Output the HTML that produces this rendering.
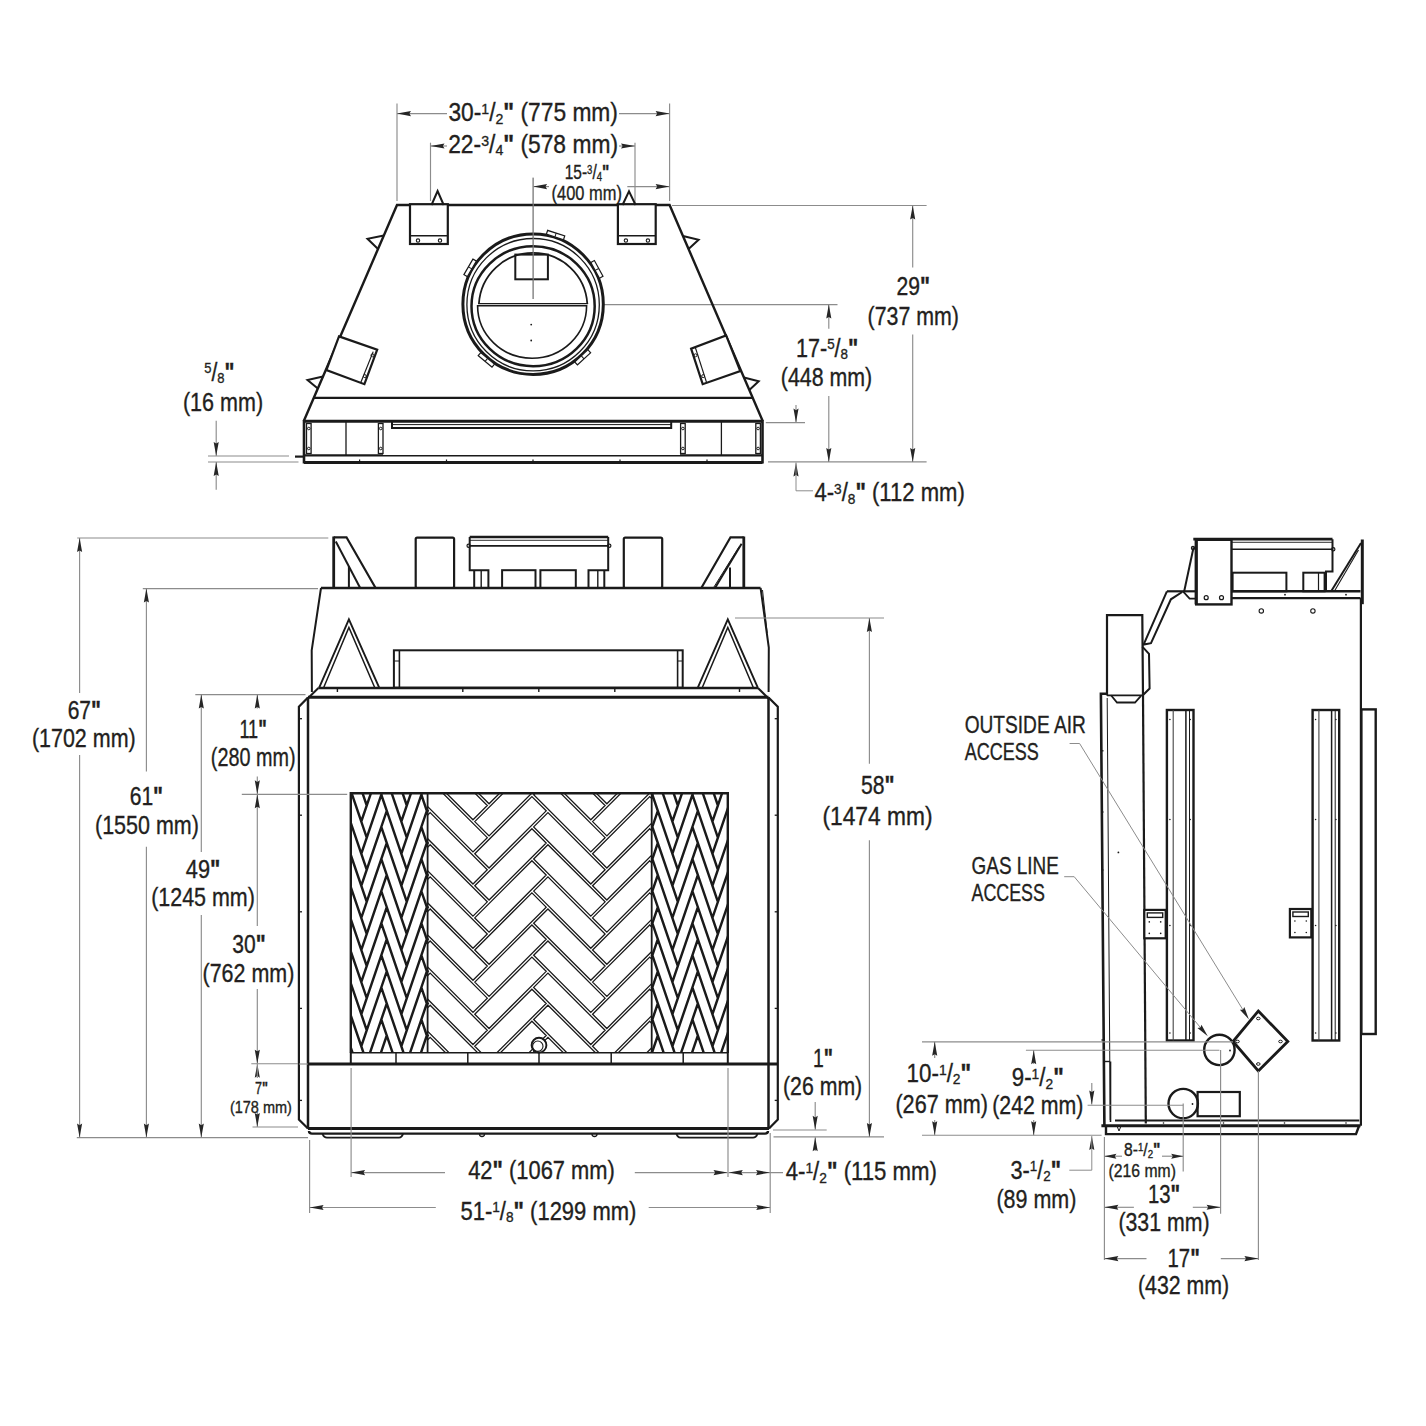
<!DOCTYPE html>
<html><head><meta charset="utf-8"><title>Fireplace dimensions</title>
<style>html,body{margin:0;padding:0;background:#fff;}svg{display:block;}
text{font-family:"Liberation Sans",sans-serif;}</style></head>
<body><svg width="1426" height="1426" viewBox="0 0 1426 1426">
<rect width="1426" height="1426" fill="#fff"/>
<line x1="397" y1="103.5" x2="397" y2="201" stroke="#8c8c8c" stroke-width="1.15"/>
<line x1="669.6" y1="103.5" x2="669.6" y2="201" stroke="#8c8c8c" stroke-width="1.15"/>
<line x1="397" y1="113.6" x2="447" y2="113.6" stroke="#8c8c8c" stroke-width="1.15"/>
<line x1="619" y1="113.6" x2="669.6" y2="113.6" stroke="#8c8c8c" stroke-width="1.15"/>
<polygon points="397,113.6 411,111.05 409.4,113.6 411,116.15" fill="#262626" stroke="none"/>
<polygon points="669.6,113.6 655.6,116.15 657.2,113.6 655.6,111.05" fill="#262626" stroke="none"/>
<text x="448.4" y="121.4" font-size="25" textLength="169.5" lengthAdjust="spacingAndGlyphs" fill="#231f20" stroke="#231f20" stroke-width="0.35"><tspan font-size="25" dy="0">30-</tspan><tspan font-size="15.5" dy="-7.25">1</tspan><tspan font-size="25" dy="7.25">/</tspan><tspan font-size="15.5" dy="2.5">2</tspan><tspan font-size="25" dy="-2.5"><tspan font-weight="bold">&quot;</tspan> (775 mm)</tspan></text>
<line x1="430.5" y1="142.7" x2="430.5" y2="201" stroke="#8c8c8c" stroke-width="1.15"/>
<line x1="635" y1="142.7" x2="635" y2="203" stroke="#8c8c8c" stroke-width="1.15"/>
<line x1="430.5" y1="146" x2="447" y2="146" stroke="#8c8c8c" stroke-width="1.15"/>
<line x1="619" y1="146" x2="635" y2="146" stroke="#8c8c8c" stroke-width="1.15"/>
<polygon points="430.5,146 444.5,143.45 442.9,146 444.5,148.55" fill="#262626" stroke="none"/>
<polygon points="635,146 621,148.55 622.6,146 621,143.45" fill="#262626" stroke="none"/>
<text x="448.2" y="152.8" font-size="25" textLength="169.8" lengthAdjust="spacingAndGlyphs" fill="#231f20" stroke="#231f20" stroke-width="0.35"><tspan font-size="25" dy="0">22-</tspan><tspan font-size="15.5" dy="-7.25">3</tspan><tspan font-size="25" dy="7.25">/</tspan><tspan font-size="15.5" dy="2.5">4</tspan><tspan font-size="25" dy="-2.5"><tspan font-weight="bold">&quot;</tspan> (578 mm)</tspan></text>
<line x1="533.1" y1="177.6" x2="533.1" y2="299" stroke="#8c8c8c" stroke-width="1.15"/>
<line x1="533.1" y1="186.6" x2="549" y2="186.6" stroke="#8c8c8c" stroke-width="1.15"/>
<polygon points="533.1,186.6 547.1,184.05 545.5,186.6 547.1,189.15" fill="#262626" stroke="none"/>
<line x1="627.3" y1="186.6" x2="669.6" y2="186.6" stroke="#8c8c8c" stroke-width="1.15"/>
<polygon points="669.6,186.6 655.6,189.15 657.2,186.6 655.6,184.05" fill="#262626" stroke="none"/>
<text x="564.7" y="179.4" font-size="20" textLength="44.7" lengthAdjust="spacingAndGlyphs" fill="#231f20" stroke="#231f20" stroke-width="0.35"><tspan font-size="20" dy="0">15-</tspan><tspan font-size="12.4" dy="-5.8">3</tspan><tspan font-size="20" dy="5.8">/</tspan><tspan font-size="12.4" dy="2">4</tspan><tspan font-size="20" dy="-2"><tspan font-weight="bold">&quot;</tspan></tspan></text>
<text x="551.6" y="199.7" font-size="20.5" textLength="70.3" lengthAdjust="spacingAndGlyphs" fill="#231f20" stroke="#231f20" stroke-width="0.35"><tspan font-size="20.5" dy="0">(400 mm)</tspan></text>
<line x1="672" y1="205.5" x2="926.6" y2="205.5" stroke="#8c8c8c" stroke-width="1.15"/>
<line x1="604" y1="304.6" x2="837.5" y2="304.6" stroke="#8c8c8c" stroke-width="1.15"/>
<line x1="768" y1="461.9" x2="926.6" y2="461.9" stroke="#8c8c8c" stroke-width="1.15"/>
<line x1="912.7" y1="206" x2="912.7" y2="267.5" stroke="#8c8c8c" stroke-width="1.15"/>
<line x1="912.7" y1="334.6" x2="912.7" y2="461.9" stroke="#8c8c8c" stroke-width="1.15"/>
<polygon points="912.7,205.5 915.25,219.5 912.7,217.9 910.15,219.5" fill="#262626" stroke="none"/>
<polygon points="912.7,461.9 910.15,447.9 912.7,449.5 915.25,447.9" fill="#262626" stroke="none"/>
<text x="896.5" y="295.3" font-size="25" textLength="33.5" lengthAdjust="spacingAndGlyphs" fill="#231f20" stroke="#231f20" stroke-width="0.35"><tspan font-size="25" dy="0">29<tspan font-weight="bold">&quot;</tspan></tspan></text>
<text x="867.6" y="325.4" font-size="25" textLength="91.4" lengthAdjust="spacingAndGlyphs" fill="#231f20" stroke="#231f20" stroke-width="0.35"><tspan font-size="25" dy="0">(737 mm)</tspan></text>
<line x1="828.8" y1="304.6" x2="828.8" y2="328.8" stroke="#8c8c8c" stroke-width="1.15"/>
<line x1="828.8" y1="396" x2="828.8" y2="461.9" stroke="#8c8c8c" stroke-width="1.15"/>
<polygon points="828.8,304.6 831.35,318.6 828.8,317 826.25,318.6" fill="#262626" stroke="none"/>
<polygon points="828.8,461.9 826.25,447.9 828.8,449.5 831.35,447.9" fill="#262626" stroke="none"/>
<text x="795.9" y="356.6" font-size="25" textLength="62.4" lengthAdjust="spacingAndGlyphs" fill="#231f20" stroke="#231f20" stroke-width="0.35"><tspan font-size="25" dy="0">17-</tspan><tspan font-size="15.5" dy="-7.25">5</tspan><tspan font-size="25" dy="7.25">/</tspan><tspan font-size="15.5" dy="2.5">8</tspan><tspan font-size="25" dy="-2.5"><tspan font-weight="bold">&quot;</tspan></tspan></text>
<text x="780.8" y="385.5" font-size="25" textLength="91.4" lengthAdjust="spacingAndGlyphs" fill="#231f20" stroke="#231f20" stroke-width="0.35"><tspan font-size="25" dy="0">(448 mm)</tspan></text>
<line x1="796" y1="405" x2="796" y2="422.6" stroke="#8c8c8c" stroke-width="1.15"/>
<polygon points="796,422.6 793.45,408.6 796,410.2 798.55,408.6" fill="#262626" stroke="none"/>
<line x1="765.8" y1="422.6" x2="805" y2="422.6" stroke="#8c8c8c" stroke-width="1.15"/>
<polygon points="796,462.5 798.55,476.5 796,474.9 793.45,476.5" fill="#262626" stroke="none"/>
<polyline points="796,462.5 796,490.8 813,490.8" fill="none" stroke="#8c8c8c" stroke-width="1" stroke-linejoin="miter"/>
<text x="814.4" y="501.2" font-size="25" textLength="150.4" lengthAdjust="spacingAndGlyphs" fill="#231f20" stroke="#231f20" stroke-width="0.35"><tspan font-size="25" dy="0">4-</tspan><tspan font-size="15.5" dy="-7.25">3</tspan><tspan font-size="25" dy="7.25">/</tspan><tspan font-size="15.5" dy="2.5">8</tspan><tspan font-size="25" dy="-2.5"><tspan font-weight="bold">&quot;</tspan> (112 mm)</tspan></text>
<text x="204.2" y="380.5" font-size="25" textLength="30.3" lengthAdjust="spacingAndGlyphs" fill="#231f20" stroke="#231f20" stroke-width="0.35"><tspan font-size="25" dy="0"></tspan><tspan font-size="15.5" dy="-7.25">5</tspan><tspan font-size="25" dy="7.25">/</tspan><tspan font-size="15.5" dy="2.5">8</tspan><tspan font-size="25" dy="-2.5"><tspan font-weight="bold">&quot;</tspan></tspan></text>
<text x="182.9" y="411.2" font-size="25" textLength="80.2" lengthAdjust="spacingAndGlyphs" fill="#231f20" stroke="#231f20" stroke-width="0.35"><tspan font-size="25" dy="0">(16 mm)</tspan></text>
<line x1="216.2" y1="420.7" x2="216.2" y2="456" stroke="#8c8c8c" stroke-width="1.15"/>
<polygon points="216.2,456 213.65,442 216.2,443.6 218.75,442" fill="#262626" stroke="none"/>
<line x1="208" y1="456" x2="289" y2="456" stroke="#8c8c8c" stroke-width="1.15"/>
<line x1="208" y1="462" x2="298.5" y2="462" stroke="#8c8c8c" stroke-width="1.15"/>
<line x1="216.2" y1="462" x2="216.2" y2="489.7" stroke="#8c8c8c" stroke-width="1.15"/>
<polygon points="216.2,462 218.75,476 216.2,474.4 213.65,476" fill="#262626" stroke="none"/>
<polyline points="303.8,421 397,205 669.6,205 762.7,421" fill="none" stroke="#1a1a1a" stroke-width="2.4" stroke-linejoin="miter"/>
<line x1="313.5" y1="397.8" x2="752.7" y2="397.8" stroke="#1a1a1a" stroke-width="2.2"/>
<line x1="303.8" y1="421.2" x2="762.7" y2="421.2" stroke="#1a1a1a" stroke-width="3"/>
<line x1="304" y1="420" x2="304" y2="463.5" stroke="#1a1a1a" stroke-width="2.6"/>
<line x1="762.5" y1="420" x2="762.5" y2="463.5" stroke="#1a1a1a" stroke-width="2.6"/>
<line x1="304" y1="455.4" x2="383" y2="455.4" stroke="#1a1a1a" stroke-width="2.2"/>
<line x1="383" y1="455.8" x2="680" y2="455.8" stroke="#1a1a1a" stroke-width="1.4"/>
<line x1="680" y1="455.4" x2="762.5" y2="455.4" stroke="#1a1a1a" stroke-width="2.2"/>
<line x1="304" y1="462.5" x2="762.5" y2="462.5" stroke="#1a1a1a" stroke-width="3"/>
<line x1="295" y1="456.6" x2="304" y2="456.6" stroke="#1a1a1a" stroke-width="2.2"/>
<line x1="359.6" y1="459.5" x2="359.6" y2="462" stroke="#1a1a1a" stroke-width="1.2"/>
<line x1="446.5" y1="459.5" x2="446.5" y2="462" stroke="#1a1a1a" stroke-width="1.2"/>
<line x1="533" y1="459.5" x2="533" y2="462" stroke="#1a1a1a" stroke-width="1.2"/>
<line x1="620" y1="459.5" x2="620" y2="462" stroke="#1a1a1a" stroke-width="1.2"/>
<line x1="707" y1="459.5" x2="707" y2="462" stroke="#1a1a1a" stroke-width="1.2"/>
<line x1="346" y1="421" x2="346" y2="455.4" stroke="#1a1a1a" stroke-width="1.3"/>
<line x1="721.4" y1="421" x2="721.4" y2="455.4" stroke="#1a1a1a" stroke-width="1.3"/>
<rect x="306.5" y="423.5" width="4.6" height="30" rx="0" fill="none" stroke="#1a1a1a" stroke-width="1.3"/>
<circle cx="308.8" cy="428.5" r="1.3" fill="none" stroke="#1a1a1a" stroke-width="1"/>
<circle cx="308.8" cy="448.5" r="1.3" fill="none" stroke="#1a1a1a" stroke-width="1"/>
<rect x="378.4" y="423.5" width="4.6" height="30" rx="0" fill="none" stroke="#1a1a1a" stroke-width="1.3"/>
<circle cx="380.7" cy="428.5" r="1.3" fill="none" stroke="#1a1a1a" stroke-width="1"/>
<circle cx="380.7" cy="448.5" r="1.3" fill="none" stroke="#1a1a1a" stroke-width="1"/>
<rect x="680.6" y="423.5" width="4.6" height="30" rx="0" fill="none" stroke="#1a1a1a" stroke-width="1.3"/>
<circle cx="682.9" cy="428.5" r="1.3" fill="none" stroke="#1a1a1a" stroke-width="1"/>
<circle cx="682.9" cy="448.5" r="1.3" fill="none" stroke="#1a1a1a" stroke-width="1"/>
<rect x="755.8" y="423.5" width="4.6" height="30" rx="0" fill="none" stroke="#1a1a1a" stroke-width="1.3"/>
<circle cx="758.1" cy="428.5" r="1.3" fill="none" stroke="#1a1a1a" stroke-width="1"/>
<circle cx="758.1" cy="448.5" r="1.3" fill="none" stroke="#1a1a1a" stroke-width="1"/>
<path d="M392,421.5 V428 H671.2 V421.5" fill="none" stroke="#1a1a1a" stroke-width="2"/>
<line x1="392" y1="424.6" x2="671.2" y2="424.6" stroke="#1a1a1a" stroke-width="1"/>
<rect x="410" y="204.2" width="37.8" height="39.8" rx="0" fill="#fff" stroke="#1a1a1a" stroke-width="2.2"/>
<line x1="410" y1="235.8" x2="447.8" y2="235.8" stroke="#1a1a1a" stroke-width="1.6"/>
<circle cx="418" cy="240.6" r="1.7" fill="none" stroke="#1a1a1a" stroke-width="1.1"/>
<circle cx="440" cy="240.6" r="1.7" fill="none" stroke="#1a1a1a" stroke-width="1.1"/>
<rect x="617.9" y="204.2" width="37.8" height="39.8" rx="0" fill="#fff" stroke="#1a1a1a" stroke-width="2.2"/>
<line x1="617.9" y1="235.8" x2="655.7" y2="235.8" stroke="#1a1a1a" stroke-width="1.6"/>
<circle cx="625.9" cy="240.6" r="1.7" fill="none" stroke="#1a1a1a" stroke-width="1.1"/>
<circle cx="647.9" cy="240.6" r="1.7" fill="none" stroke="#1a1a1a" stroke-width="1.1"/>
<polyline points="431.5,205 437.6,191 443.7,205" fill="none" stroke="#1a1a1a" stroke-width="2" stroke-linejoin="miter"/>
<polyline points="622.5,205 629,191.4 635.6,205" fill="none" stroke="#1a1a1a" stroke-width="2" stroke-linejoin="miter"/>
<polyline points="383.84,235.5 367.5,238.8 378.01,249" fill="none" stroke="#1a1a1a" stroke-width="2" stroke-linejoin="miter"/>
<polyline points="323,376.5 307.5,380 317.82,388.5" fill="none" stroke="#1a1a1a" stroke-width="2" stroke-linejoin="miter"/>
<polyline points="682.96,236 698.6,239.8 688.56,249" fill="none" stroke="#1a1a1a" stroke-width="2" stroke-linejoin="miter"/>
<polyline points="743.95,377.5 758.7,381.2 749.34,390" fill="none" stroke="#1a1a1a" stroke-width="2" stroke-linejoin="miter"/>
<polygon points="339,336.4 377.2,349.7 364.4,384.2 326.4,370" fill="#fff" stroke="#1a1a1a" stroke-width="2.2" stroke-linejoin="miter"/>
<line x1="373.2" y1="351.6" x2="360.6" y2="383" stroke="#1a1a1a" stroke-width="1.2"/>
<circle cx="372.5" cy="355.3" r="1.5" fill="none" stroke="#1a1a1a" stroke-width="1"/>
<circle cx="364.8" cy="376.1" r="1.5" fill="none" stroke="#1a1a1a" stroke-width="1"/>
<polygon points="726.1,335.4 740.3,371 702.7,384.2 691.1,348.6" fill="#fff" stroke="#1a1a1a" stroke-width="2.2" stroke-linejoin="miter"/>
<line x1="695.3" y1="347.4" x2="706.6" y2="382.6" stroke="#1a1a1a" stroke-width="1.2"/>
<circle cx="695.5" cy="355.3" r="1.5" fill="none" stroke="#1a1a1a" stroke-width="1"/>
<circle cx="703.2" cy="376.1" r="1.5" fill="none" stroke="#1a1a1a" stroke-width="1"/>
<circle cx="533.1" cy="304.2" r="70.2" fill="none" stroke="#1a1a1a" stroke-width="3"/>
<circle cx="533.1" cy="304.7" r="66.2" fill="none" stroke="#1a1a1a" stroke-width="1.3"/>
<ellipse cx="533.1" cy="306.2" rx="61.6" ry="60" fill="none" stroke="#1a1a1a" stroke-width="2.5"/>
<path d="M478.9,303.8 A54.3,54.3 0 0 1 587.3,303.8" fill="none" stroke="#1a1a1a" stroke-width="1.8"/>
<path d="M477.6,305.8 H586.6 A54.5,52.5 0 0 1 477.6,305.8 Z" fill="none" stroke="#1a1a1a" stroke-width="1.6"/>
<line x1="478.1" y1="303.6" x2="588.1" y2="303.6" stroke="#1a1a1a" stroke-width="1.1"/>
<rect x="515.3" y="254.6" width="32.6" height="24.7" rx="0" fill="none" stroke="#1a1a1a" stroke-width="2"/>
<line x1="533.2" y1="178" x2="533.2" y2="299" stroke="#8c8c8c" stroke-width="1"/>
<circle cx="531.2" cy="324.6" r="0.9" fill="#1a1a1a" stroke="#1a1a1a" stroke-width="0"/>
<circle cx="531.2" cy="340.5" r="0.9" fill="#1a1a1a" stroke="#1a1a1a" stroke-width="0"/>
<g transform="translate(555.5,235.25) rotate(18)"><rect x="-9" y="-2.2" width="18" height="4" fill="#fff" stroke="#1a1a1a" stroke-width="1.2"/><line x1="0" y1="-2.2" x2="0" y2="1.8" stroke="#1a1a1a" stroke-width="1"/></g>
<g transform="translate(470.31,267.95) rotate(-60)"><rect x="-9" y="-2.2" width="18" height="4" fill="#fff" stroke="#1a1a1a" stroke-width="1.2"/><line x1="0" y1="-2.2" x2="0" y2="1.8" stroke="#1a1a1a" stroke-width="1"/></g>
<g transform="translate(596.75,269.49) rotate(61.4)"><rect x="-9" y="-2.2" width="18" height="4" fill="#fff" stroke="#1a1a1a" stroke-width="1.2"/><line x1="0" y1="-2.2" x2="0" y2="1.8" stroke="#1a1a1a" stroke-width="1"/></g>
<g transform="translate(486.5,359.74) rotate(220)"><rect x="-9" y="-2.2" width="18" height="4" fill="#fff" stroke="#1a1a1a" stroke-width="1.2"/><line x1="0" y1="-2.2" x2="0" y2="1.8" stroke="#1a1a1a" stroke-width="1"/></g>
<g transform="translate(582.54,357.22) rotate(137)"><rect x="-9" y="-2.2" width="18" height="4" fill="#fff" stroke="#1a1a1a" stroke-width="1.2"/><line x1="0" y1="-2.2" x2="0" y2="1.8" stroke="#1a1a1a" stroke-width="1"/></g>
<line x1="333.7" y1="536.5" x2="333.7" y2="588" stroke="#1a1a1a" stroke-width="2.8"/>
<polyline points="333.7,537.3 346.5,537.3 375.6,588" fill="none" stroke="#1a1a1a" stroke-width="2.2" stroke-linejoin="miter"/>
<line x1="335.8" y1="541.5" x2="360.2" y2="588" stroke="#1a1a1a" stroke-width="2"/>
<line x1="348.9" y1="566.5" x2="348.9" y2="588" stroke="#1a1a1a" stroke-width="2"/>
<line x1="743.8" y1="536.5" x2="743.8" y2="588" stroke="#1a1a1a" stroke-width="2.8"/>
<polyline points="743.8,537.3 730.5,537.3 701.3,588" fill="none" stroke="#1a1a1a" stroke-width="2.2" stroke-linejoin="miter"/>
<line x1="741.6" y1="543.7" x2="715" y2="588" stroke="#1a1a1a" stroke-width="2"/>
<line x1="739.2" y1="546.5" x2="713.3" y2="588" stroke="#1a1a1a" stroke-width="1"/>
<line x1="730" y1="567.4" x2="730" y2="588" stroke="#1a1a1a" stroke-width="2"/>
<rect x="415.7" y="537.6" width="38.4" height="50.4" rx="1.5" fill="none" stroke="#1a1a1a" stroke-width="2.2"/>
<rect x="623.8" y="537.6" width="38.4" height="50.4" rx="1.5" fill="none" stroke="#1a1a1a" stroke-width="2.2"/>
<line x1="469.7" y1="537" x2="608.2" y2="537" stroke="#1a1a1a" stroke-width="2.3"/>
<line x1="469.7" y1="540.3" x2="608.2" y2="540.3" stroke="#1a1a1a" stroke-width="0.9"/>
<line x1="469.7" y1="545.8" x2="608.2" y2="545.8" stroke="#1a1a1a" stroke-width="1.8"/>
<polyline points="469.7,537 469.7,570.2 488.4,570.2 488.4,588" fill="none" stroke="#1a1a1a" stroke-width="2" stroke-linejoin="miter"/>
<polyline points="608.2,537 608.2,570.2 588.5,570.2 588.5,588" fill="none" stroke="#1a1a1a" stroke-width="2" stroke-linejoin="miter"/>
<circle cx="468.6" cy="545.8" r="1.6" fill="none" stroke="#1a1a1a" stroke-width="1.2"/>
<circle cx="609.3" cy="545.8" r="1.6" fill="none" stroke="#1a1a1a" stroke-width="1.2"/>
<line x1="474.2" y1="570.2" x2="474.2" y2="588" stroke="#1a1a1a" stroke-width="2"/>
<line x1="481.2" y1="570.2" x2="481.2" y2="588" stroke="#1a1a1a" stroke-width="1.4"/>
<line x1="597.8" y1="570.2" x2="597.8" y2="588" stroke="#1a1a1a" stroke-width="1.4"/>
<line x1="604.3" y1="570.2" x2="604.3" y2="588" stroke="#1a1a1a" stroke-width="2"/>
<rect x="502.1" y="570.2" width="33.4" height="17.8" rx="0" fill="none" stroke="#1a1a1a" stroke-width="2"/>
<rect x="540.4" y="570.2" width="35.4" height="17.8" rx="0" fill="none" stroke="#1a1a1a" stroke-width="2"/>
<line x1="321" y1="588" x2="760.6" y2="588" stroke="#1a1a1a" stroke-width="2.4"/>
<polyline points="321,588 311.7,650.3 311.9,692" fill="none" stroke="#1a1a1a" stroke-width="2" stroke-linejoin="miter"/>
<polyline points="760.6,588 768.8,647.6 768.6,692" fill="none" stroke="#1a1a1a" stroke-width="2" stroke-linejoin="miter"/>
<line x1="762.5" y1="590" x2="767.2" y2="633" stroke="#1a1a1a" stroke-width="1"/>
<polyline points="319.1,687.8 348.9,619.4 379.3,687.8" fill="none" stroke="#1a1a1a" stroke-width="1.9" stroke-linejoin="miter"/>
<polyline points="323.6,687.8 348.9,627.5 374.8,687.8" fill="none" stroke="#1a1a1a" stroke-width="1.5" stroke-linejoin="miter"/>
<polyline points="697.7,687.8 727.8,619.4 757.9,687.8" fill="none" stroke="#1a1a1a" stroke-width="1.9" stroke-linejoin="miter"/>
<polyline points="702.2,687.8 727.8,627.5 753.4,687.8" fill="none" stroke="#1a1a1a" stroke-width="1.5" stroke-linejoin="miter"/>
<rect x="393.9" y="650.3" width="288.8" height="37.4" rx="0" fill="none" stroke="#1a1a1a" stroke-width="2"/>
<line x1="399.4" y1="650.3" x2="399.4" y2="687.7" stroke="#1a1a1a" stroke-width="1.6"/>
<line x1="677.6" y1="650.3" x2="677.6" y2="687.7" stroke="#1a1a1a" stroke-width="1.6"/>
<line x1="393.9" y1="661" x2="399.4" y2="661" stroke="#1a1a1a" stroke-width="1"/>
<line x1="677.6" y1="661" x2="682.7" y2="661" stroke="#1a1a1a" stroke-width="1"/>
<line x1="318.4" y1="688" x2="758" y2="688" stroke="#1a1a1a" stroke-width="2.4"/>
<line x1="337.4" y1="688" x2="337.4" y2="692" stroke="#1a1a1a" stroke-width="1.4"/>
<line x1="462.8" y1="688" x2="462.8" y2="692" stroke="#1a1a1a" stroke-width="1.4"/>
<line x1="538.8" y1="688" x2="538.8" y2="692" stroke="#1a1a1a" stroke-width="1.4"/>
<line x1="614.8" y1="688" x2="614.8" y2="692" stroke="#1a1a1a" stroke-width="1.4"/>
<line x1="739.5" y1="688" x2="739.5" y2="692" stroke="#1a1a1a" stroke-width="1.4"/>
<line x1="308" y1="697.3" x2="768.5" y2="697.3" stroke="#1a1a1a" stroke-width="3"/>
<line x1="318.4" y1="688" x2="307.7" y2="698.5" stroke="#1a1a1a" stroke-width="2"/>
<line x1="758" y1="688" x2="768.5" y2="698.5" stroke="#1a1a1a" stroke-width="2"/>
<polyline points="308,697.5 298.9,706.8 298.9,1119.5 308,1128.5" fill="none" stroke="#1a1a1a" stroke-width="2.2" stroke-linejoin="miter"/>
<line x1="308" y1="697.5" x2="308" y2="1128.5" stroke="#1a1a1a" stroke-width="2.5"/>
<polyline points="768.5,697.5 777.8,706.8 777.8,1119.5 769,1128.5" fill="none" stroke="#1a1a1a" stroke-width="2.2" stroke-linejoin="miter"/>
<line x1="768.5" y1="697.5" x2="768.5" y2="1128.5" stroke="#1a1a1a" stroke-width="2.5"/>
<line x1="298.9" y1="718.7" x2="302" y2="718.7" stroke="#1a1a1a" stroke-width="1.3"/>
<line x1="777.8" y1="718.7" x2="774.7" y2="718.7" stroke="#1a1a1a" stroke-width="1.3"/>
<line x1="298.9" y1="815.2" x2="302" y2="815.2" stroke="#1a1a1a" stroke-width="1.3"/>
<line x1="777.8" y1="815.2" x2="774.7" y2="815.2" stroke="#1a1a1a" stroke-width="1.3"/>
<line x1="298.9" y1="911.8" x2="302" y2="911.8" stroke="#1a1a1a" stroke-width="1.3"/>
<line x1="777.8" y1="911.8" x2="774.7" y2="911.8" stroke="#1a1a1a" stroke-width="1.3"/>
<line x1="298.9" y1="1008.4" x2="302" y2="1008.4" stroke="#1a1a1a" stroke-width="1.3"/>
<line x1="777.8" y1="1008.4" x2="774.7" y2="1008.4" stroke="#1a1a1a" stroke-width="1.3"/>
<line x1="298.9" y1="1100.4" x2="302" y2="1100.4" stroke="#1a1a1a" stroke-width="1.3"/>
<line x1="777.8" y1="1100.4" x2="774.7" y2="1100.4" stroke="#1a1a1a" stroke-width="1.3"/>
<line x1="308" y1="1064" x2="777.8" y2="1064" stroke="#1a1a1a" stroke-width="2.8"/>
<line x1="298.9" y1="1064" x2="308" y2="1064" stroke="#8c8c8c" stroke-width="1.1"/>
<line x1="308" y1="1128.6" x2="769" y2="1128.6" stroke="#1a1a1a" stroke-width="3"/>
<path d="M309,1131 Q309,1133.6 312,1133.6 H765 Q768,1133.6 768,1131" fill="none" stroke="#1a1a1a" stroke-width="2.4"/>
<path d="M322.5,1133.8 Q324,1137.6 327,1137.6 H399 Q402,1137.6 403,1133.8" fill="none" stroke="#1a1a1a" stroke-width="1.8"/>
<path d="M676.5,1133.8 Q677.5,1137.6 680.5,1137.6 H753 Q756,1137.6 757.5,1133.8" fill="none" stroke="#1a1a1a" stroke-width="1.8"/>
<path d="M479.5,1134 A2.5,2.5 0 0 0 484.5,1134" fill="none" stroke="#1a1a1a" stroke-width="1.3"/>
<path d="M592,1134 A2.5,2.5 0 0 0 597,1134" fill="none" stroke="#1a1a1a" stroke-width="1.3"/>
<clipPath id="hbC"><rect x="427.6" y="793.3" width="224.1" height="259.4"/></clipPath>
<g clip-path="url(#hbC)"><path transform="matrix(1,0,0,1,0,0)" vector-effect="non-scaling-stroke" d="M239.17,789.5 L296.3,732.37 L310.59,746.65 L253.45,803.78Z M298.07,762.7 L312.35,748.42 L369.49,805.55 L355.2,819.83Z M239.17,821.6 L296.3,764.47 L310.59,778.75 L253.45,835.88Z M298.07,794.8 L312.35,780.52 L369.49,837.65 L355.2,851.93Z M239.17,853.7 L296.3,796.57 L310.59,810.85 L253.45,867.98Z M298.07,826.9 L312.35,812.62 L369.49,869.75 L355.2,884.03Z M239.17,885.8 L296.3,828.67 L310.59,842.95 L253.45,900.08Z M298.07,859 L312.35,844.72 L369.49,901.85 L355.2,916.13Z M239.17,917.9 L296.3,860.77 L310.59,875.05 L253.45,932.18Z M298.07,891.1 L312.35,876.82 L369.49,933.95 L355.2,948.23Z M239.17,950 L296.3,892.87 L310.59,907.15 L253.45,964.28Z M298.07,923.2 L312.35,908.92 L369.49,966.05 L355.2,980.33Z M239.17,982.1 L296.3,924.97 L310.59,939.25 L253.45,996.38Z M298.07,955.3 L312.35,941.02 L369.49,998.15 L355.2,1012.43Z M239.17,1014.2 L296.3,957.07 L310.59,971.35 L253.45,1028.48Z M298.07,987.4 L312.35,973.12 L369.49,1030.25 L355.2,1044.53Z M239.17,1046.3 L296.3,989.17 L310.59,1003.45 L253.45,1060.58Z M298.07,1019.5 L312.35,1005.22 L369.49,1062.35 L355.2,1076.63Z M239.17,1078.4 L296.3,1021.27 L310.59,1035.55 L253.45,1092.68Z M298.07,1051.6 L312.35,1037.32 L369.49,1094.45 L355.2,1108.73Z M239.17,1110.5 L296.3,1053.37 L310.59,1067.65 L253.45,1124.78Z M356.97,789.5 L414.1,732.37 L428.39,746.65 L371.25,803.78Z M415.87,762.7 L430.15,748.42 L487.29,805.55 L473,819.83Z M356.97,821.6 L414.1,764.47 L428.39,778.75 L371.25,835.88Z M415.87,794.8 L430.15,780.52 L487.29,837.65 L473,851.93Z M356.97,853.7 L414.1,796.57 L428.39,810.85 L371.25,867.98Z M415.87,826.9 L430.15,812.62 L487.29,869.75 L473,884.03Z M356.97,885.8 L414.1,828.67 L428.39,842.95 L371.25,900.08Z M415.87,859 L430.15,844.72 L487.29,901.85 L473,916.13Z M356.97,917.9 L414.1,860.77 L428.39,875.05 L371.25,932.18Z M415.87,891.1 L430.15,876.82 L487.29,933.95 L473,948.23Z M356.97,950 L414.1,892.87 L428.39,907.15 L371.25,964.28Z M415.87,923.2 L430.15,908.92 L487.29,966.05 L473,980.33Z M356.97,982.1 L414.1,924.97 L428.39,939.25 L371.25,996.38Z M415.87,955.3 L430.15,941.02 L487.29,998.15 L473,1012.43Z M356.97,1014.2 L414.1,957.07 L428.39,971.35 L371.25,1028.48Z M415.87,987.4 L430.15,973.12 L487.29,1030.25 L473,1044.53Z M356.97,1046.3 L414.1,989.17 L428.39,1003.45 L371.25,1060.58Z M415.87,1019.5 L430.15,1005.22 L487.29,1062.35 L473,1076.63Z M356.97,1078.4 L414.1,1021.27 L428.39,1035.55 L371.25,1092.68Z M415.87,1051.6 L430.15,1037.32 L487.29,1094.45 L473,1108.73Z M356.97,1110.5 L414.1,1053.37 L428.39,1067.65 L371.25,1124.78Z M474.77,789.5 L531.9,732.37 L546.19,746.65 L489.05,803.78Z M533.67,762.7 L547.95,748.42 L605.09,805.55 L590.8,819.83Z M474.77,821.6 L531.9,764.47 L546.19,778.75 L489.05,835.88Z M533.67,794.8 L547.95,780.52 L605.09,837.65 L590.8,851.93Z M474.77,853.7 L531.9,796.57 L546.19,810.85 L489.05,867.98Z M533.67,826.9 L547.95,812.62 L605.09,869.75 L590.8,884.03Z M474.77,885.8 L531.9,828.67 L546.19,842.95 L489.05,900.08Z M533.67,859 L547.95,844.72 L605.09,901.85 L590.8,916.13Z M474.77,917.9 L531.9,860.77 L546.19,875.05 L489.05,932.18Z M533.67,891.1 L547.95,876.82 L605.09,933.95 L590.8,948.23Z M474.77,950 L531.9,892.87 L546.19,907.15 L489.05,964.28Z M533.67,923.2 L547.95,908.92 L605.09,966.05 L590.8,980.33Z M474.77,982.1 L531.9,924.97 L546.19,939.25 L489.05,996.38Z M533.67,955.3 L547.95,941.02 L605.09,998.15 L590.8,1012.43Z M474.77,1014.2 L531.9,957.07 L546.19,971.35 L489.05,1028.48Z M533.67,987.4 L547.95,973.12 L605.09,1030.25 L590.8,1044.53Z M474.77,1046.3 L531.9,989.17 L546.19,1003.45 L489.05,1060.58Z M533.67,1019.5 L547.95,1005.22 L605.09,1062.35 L590.8,1076.63Z M474.77,1078.4 L531.9,1021.27 L546.19,1035.55 L489.05,1092.68Z M533.67,1051.6 L547.95,1037.32 L605.09,1094.45 L590.8,1108.73Z M474.77,1110.5 L531.9,1053.37 L546.19,1067.65 L489.05,1124.78Z M592.57,789.5 L649.7,732.37 L663.99,746.65 L606.85,803.78Z M651.47,762.7 L665.75,748.42 L722.89,805.55 L708.6,819.83Z M592.57,821.6 L649.7,764.47 L663.99,778.75 L606.85,835.88Z M651.47,794.8 L665.75,780.52 L722.89,837.65 L708.6,851.93Z M592.57,853.7 L649.7,796.57 L663.99,810.85 L606.85,867.98Z M651.47,826.9 L665.75,812.62 L722.89,869.75 L708.6,884.03Z M592.57,885.8 L649.7,828.67 L663.99,842.95 L606.85,900.08Z M651.47,859 L665.75,844.72 L722.89,901.85 L708.6,916.13Z M592.57,917.9 L649.7,860.77 L663.99,875.05 L606.85,932.18Z M651.47,891.1 L665.75,876.82 L722.89,933.95 L708.6,948.23Z M592.57,950 L649.7,892.87 L663.99,907.15 L606.85,964.28Z M651.47,923.2 L665.75,908.92 L722.89,966.05 L708.6,980.33Z M592.57,982.1 L649.7,924.97 L663.99,939.25 L606.85,996.38Z M651.47,955.3 L665.75,941.02 L722.89,998.15 L708.6,1012.43Z M592.57,1014.2 L649.7,957.07 L663.99,971.35 L606.85,1028.48Z M651.47,987.4 L665.75,973.12 L722.89,1030.25 L708.6,1044.53Z M592.57,1046.3 L649.7,989.17 L663.99,1003.45 L606.85,1060.58Z M651.47,1019.5 L665.75,1005.22 L722.89,1062.35 L708.6,1076.63Z M592.57,1078.4 L649.7,1021.27 L663.99,1035.55 L606.85,1092.68Z M651.47,1051.6 L665.75,1037.32 L722.89,1094.45 L708.6,1108.73Z M592.57,1110.5 L649.7,1053.37 L663.99,1067.65 L606.85,1124.78Z M710.37,789.5 L767.5,732.37 L781.79,746.65 L724.65,803.78Z M769.27,762.7 L783.55,748.42 L840.69,805.55 L826.4,819.83Z M710.37,821.6 L767.5,764.47 L781.79,778.75 L724.65,835.88Z M769.27,794.8 L783.55,780.52 L840.69,837.65 L826.4,851.93Z M710.37,853.7 L767.5,796.57 L781.79,810.85 L724.65,867.98Z M769.27,826.9 L783.55,812.62 L840.69,869.75 L826.4,884.03Z M710.37,885.8 L767.5,828.67 L781.79,842.95 L724.65,900.08Z M769.27,859 L783.55,844.72 L840.69,901.85 L826.4,916.13Z M710.37,917.9 L767.5,860.77 L781.79,875.05 L724.65,932.18Z M769.27,891.1 L783.55,876.82 L840.69,933.95 L826.4,948.23Z M710.37,950 L767.5,892.87 L781.79,907.15 L724.65,964.28Z M769.27,923.2 L783.55,908.92 L840.69,966.05 L826.4,980.33Z M710.37,982.1 L767.5,924.97 L781.79,939.25 L724.65,996.38Z M769.27,955.3 L783.55,941.02 L840.69,998.15 L826.4,1012.43Z M710.37,1014.2 L767.5,957.07 L781.79,971.35 L724.65,1028.48Z M769.27,987.4 L783.55,973.12 L840.69,1030.25 L826.4,1044.53Z M710.37,1046.3 L767.5,989.17 L781.79,1003.45 L724.65,1060.58Z M769.27,1019.5 L783.55,1005.22 L840.69,1062.35 L826.4,1076.63Z M710.37,1078.4 L767.5,1021.27 L781.79,1035.55 L724.65,1092.68Z M769.27,1051.6 L783.55,1037.32 L840.69,1094.45 L826.4,1108.73Z M710.37,1110.5 L767.5,1053.37 L781.79,1067.65 L724.65,1124.78Z" fill="none" stroke="#1a1a1a" stroke-width="1.3"/></g>
<clipPath id="hbL"><rect x="350.8" y="793.3" width="76.8" height="259.4"/></clipPath>
<g clip-path="url(#hbL)"><path transform="matrix(0.34,0,0,1,361.28,0)" vector-effect="non-scaling-stroke" d="M-174.93,762.7 L-160.65,748.42 L-103.51,805.55 L-117.8,819.83Z M-174.93,794.8 L-160.65,780.52 L-103.51,837.65 L-117.8,851.93Z M-174.93,826.9 L-160.65,812.62 L-103.51,869.75 L-117.8,884.03Z M-174.93,859 L-160.65,844.72 L-103.51,901.85 L-117.8,916.13Z M-174.93,891.1 L-160.65,876.82 L-103.51,933.95 L-117.8,948.23Z M-174.93,923.2 L-160.65,908.92 L-103.51,966.05 L-117.8,980.33Z M-174.93,955.3 L-160.65,941.02 L-103.51,998.15 L-117.8,1012.43Z M-174.93,987.4 L-160.65,973.12 L-103.51,1030.25 L-117.8,1044.53Z M-174.93,1019.5 L-160.65,1005.22 L-103.51,1062.35 L-117.8,1076.63Z M-174.93,1051.6 L-160.65,1037.32 L-103.51,1094.45 L-117.8,1108.73Z M-116.03,789.5 L-58.9,732.37 L-44.61,746.65 L-101.75,803.78Z M-57.13,762.7 L-42.85,748.42 L14.29,805.55 L0,819.83Z M-116.03,821.6 L-58.9,764.47 L-44.61,778.75 L-101.75,835.88Z M-57.13,794.8 L-42.85,780.52 L14.29,837.65 L0,851.93Z M-116.03,853.7 L-58.9,796.57 L-44.61,810.85 L-101.75,867.98Z M-57.13,826.9 L-42.85,812.62 L14.29,869.75 L0,884.03Z M-116.03,885.8 L-58.9,828.67 L-44.61,842.95 L-101.75,900.08Z M-57.13,859 L-42.85,844.72 L14.29,901.85 L0,916.13Z M-116.03,917.9 L-58.9,860.77 L-44.61,875.05 L-101.75,932.18Z M-57.13,891.1 L-42.85,876.82 L14.29,933.95 L0,948.23Z M-116.03,950 L-58.9,892.87 L-44.61,907.15 L-101.75,964.28Z M-57.13,923.2 L-42.85,908.92 L14.29,966.05 L0,980.33Z M-116.03,982.1 L-58.9,924.97 L-44.61,939.25 L-101.75,996.38Z M-57.13,955.3 L-42.85,941.02 L14.29,998.15 L0,1012.43Z M-116.03,1014.2 L-58.9,957.07 L-44.61,971.35 L-101.75,1028.48Z M-57.13,987.4 L-42.85,973.12 L14.29,1030.25 L0,1044.53Z M-116.03,1046.3 L-58.9,989.17 L-44.61,1003.45 L-101.75,1060.58Z M-57.13,1019.5 L-42.85,1005.22 L14.29,1062.35 L0,1076.63Z M-116.03,1078.4 L-58.9,1021.27 L-44.61,1035.55 L-101.75,1092.68Z M-57.13,1051.6 L-42.85,1037.32 L14.29,1094.45 L0,1108.73Z M-116.03,1110.5 L-58.9,1053.37 L-44.61,1067.65 L-101.75,1124.78Z M1.77,789.5 L58.9,732.37 L73.19,746.65 L16.05,803.78Z M60.67,762.7 L74.95,748.42 L132.09,805.55 L117.8,819.83Z M1.77,821.6 L58.9,764.47 L73.19,778.75 L16.05,835.88Z M60.67,794.8 L74.95,780.52 L132.09,837.65 L117.8,851.93Z M1.77,853.7 L58.9,796.57 L73.19,810.85 L16.05,867.98Z M60.67,826.9 L74.95,812.62 L132.09,869.75 L117.8,884.03Z M1.77,885.8 L58.9,828.67 L73.19,842.95 L16.05,900.08Z M60.67,859 L74.95,844.72 L132.09,901.85 L117.8,916.13Z M1.77,917.9 L58.9,860.77 L73.19,875.05 L16.05,932.18Z M60.67,891.1 L74.95,876.82 L132.09,933.95 L117.8,948.23Z M1.77,950 L58.9,892.87 L73.19,907.15 L16.05,964.28Z M60.67,923.2 L74.95,908.92 L132.09,966.05 L117.8,980.33Z M1.77,982.1 L58.9,924.97 L73.19,939.25 L16.05,996.38Z M60.67,955.3 L74.95,941.02 L132.09,998.15 L117.8,1012.43Z M1.77,1014.2 L58.9,957.07 L73.19,971.35 L16.05,1028.48Z M60.67,987.4 L74.95,973.12 L132.09,1030.25 L117.8,1044.53Z M1.77,1046.3 L58.9,989.17 L73.19,1003.45 L16.05,1060.58Z M60.67,1019.5 L74.95,1005.22 L132.09,1062.35 L117.8,1076.63Z M1.77,1078.4 L58.9,1021.27 L73.19,1035.55 L16.05,1092.68Z M60.67,1051.6 L74.95,1037.32 L132.09,1094.45 L117.8,1108.73Z M1.77,1110.5 L58.9,1053.37 L73.19,1067.65 L16.05,1124.78Z M119.57,789.5 L176.7,732.37 L190.99,746.65 L133.85,803.78Z M178.47,762.7 L192.75,748.42 L249.89,805.55 L235.6,819.83Z M119.57,821.6 L176.7,764.47 L190.99,778.75 L133.85,835.88Z M178.47,794.8 L192.75,780.52 L249.89,837.65 L235.6,851.93Z M119.57,853.7 L176.7,796.57 L190.99,810.85 L133.85,867.98Z M178.47,826.9 L192.75,812.62 L249.89,869.75 L235.6,884.03Z M119.57,885.8 L176.7,828.67 L190.99,842.95 L133.85,900.08Z M178.47,859 L192.75,844.72 L249.89,901.85 L235.6,916.13Z M119.57,917.9 L176.7,860.77 L190.99,875.05 L133.85,932.18Z M178.47,891.1 L192.75,876.82 L249.89,933.95 L235.6,948.23Z M119.57,950 L176.7,892.87 L190.99,907.15 L133.85,964.28Z M178.47,923.2 L192.75,908.92 L249.89,966.05 L235.6,980.33Z M119.57,982.1 L176.7,924.97 L190.99,939.25 L133.85,996.38Z M178.47,955.3 L192.75,941.02 L249.89,998.15 L235.6,1012.43Z M119.57,1014.2 L176.7,957.07 L190.99,971.35 L133.85,1028.48Z M178.47,987.4 L192.75,973.12 L249.89,1030.25 L235.6,1044.53Z M119.57,1046.3 L176.7,989.17 L190.99,1003.45 L133.85,1060.58Z M178.47,1019.5 L192.75,1005.22 L249.89,1062.35 L235.6,1076.63Z M119.57,1078.4 L176.7,1021.27 L190.99,1035.55 L133.85,1092.68Z M178.47,1051.6 L192.75,1037.32 L249.89,1094.45 L235.6,1108.73Z M119.57,1110.5 L176.7,1053.37 L190.99,1067.65 L133.85,1124.78Z M237.37,789.5 L294.5,732.37 L308.79,746.65 L251.65,803.78Z M296.27,762.7 L310.55,748.42 L367.69,805.55 L353.4,819.83Z M237.37,821.6 L294.5,764.47 L308.79,778.75 L251.65,835.88Z M296.27,794.8 L310.55,780.52 L367.69,837.65 L353.4,851.93Z M237.37,853.7 L294.5,796.57 L308.79,810.85 L251.65,867.98Z M296.27,826.9 L310.55,812.62 L367.69,869.75 L353.4,884.03Z M237.37,885.8 L294.5,828.67 L308.79,842.95 L251.65,900.08Z M296.27,859 L310.55,844.72 L367.69,901.85 L353.4,916.13Z M237.37,917.9 L294.5,860.77 L308.79,875.05 L251.65,932.18Z M296.27,891.1 L310.55,876.82 L367.69,933.95 L353.4,948.23Z M237.37,950 L294.5,892.87 L308.79,907.15 L251.65,964.28Z M296.27,923.2 L310.55,908.92 L367.69,966.05 L353.4,980.33Z M237.37,982.1 L294.5,924.97 L308.79,939.25 L251.65,996.38Z M296.27,955.3 L310.55,941.02 L367.69,998.15 L353.4,1012.43Z M237.37,1014.2 L294.5,957.07 L308.79,971.35 L251.65,1028.48Z M296.27,987.4 L310.55,973.12 L367.69,1030.25 L353.4,1044.53Z M237.37,1046.3 L294.5,989.17 L308.79,1003.45 L251.65,1060.58Z M296.27,1019.5 L310.55,1005.22 L367.69,1062.35 L353.4,1076.63Z M237.37,1078.4 L294.5,1021.27 L308.79,1035.55 L251.65,1092.68Z M296.27,1051.6 L310.55,1037.32 L367.69,1094.45 L353.4,1108.73Z M237.37,1110.5 L294.5,1053.37 L308.79,1067.65 L251.65,1124.78Z" fill="none" stroke="#1a1a1a" stroke-width="1.3"/></g>
<clipPath id="hbR"><rect x="651.7" y="793.3" width="76.1" height="259.4"/></clipPath>
<g clip-path="url(#hbR)"><path transform="matrix(0.34,0,0,1,672.38,0)" vector-effect="non-scaling-stroke" d="M-233.83,789.5 L-176.7,732.37 L-162.41,746.65 L-219.55,803.78Z M-174.93,762.7 L-160.65,748.42 L-103.51,805.55 L-117.8,819.83Z M-233.83,821.6 L-176.7,764.47 L-162.41,778.75 L-219.55,835.88Z M-174.93,794.8 L-160.65,780.52 L-103.51,837.65 L-117.8,851.93Z M-233.83,853.7 L-176.7,796.57 L-162.41,810.85 L-219.55,867.98Z M-174.93,826.9 L-160.65,812.62 L-103.51,869.75 L-117.8,884.03Z M-233.83,885.8 L-176.7,828.67 L-162.41,842.95 L-219.55,900.08Z M-174.93,859 L-160.65,844.72 L-103.51,901.85 L-117.8,916.13Z M-233.83,917.9 L-176.7,860.77 L-162.41,875.05 L-219.55,932.18Z M-174.93,891.1 L-160.65,876.82 L-103.51,933.95 L-117.8,948.23Z M-233.83,950 L-176.7,892.87 L-162.41,907.15 L-219.55,964.28Z M-174.93,923.2 L-160.65,908.92 L-103.51,966.05 L-117.8,980.33Z M-233.83,982.1 L-176.7,924.97 L-162.41,939.25 L-219.55,996.38Z M-174.93,955.3 L-160.65,941.02 L-103.51,998.15 L-117.8,1012.43Z M-233.83,1014.2 L-176.7,957.07 L-162.41,971.35 L-219.55,1028.48Z M-174.93,987.4 L-160.65,973.12 L-103.51,1030.25 L-117.8,1044.53Z M-233.83,1046.3 L-176.7,989.17 L-162.41,1003.45 L-219.55,1060.58Z M-174.93,1019.5 L-160.65,1005.22 L-103.51,1062.35 L-117.8,1076.63Z M-233.83,1078.4 L-176.7,1021.27 L-162.41,1035.55 L-219.55,1092.68Z M-174.93,1051.6 L-160.65,1037.32 L-103.51,1094.45 L-117.8,1108.73Z M-233.83,1110.5 L-176.7,1053.37 L-162.41,1067.65 L-219.55,1124.78Z M-116.03,789.5 L-58.9,732.37 L-44.61,746.65 L-101.75,803.78Z M-57.13,762.7 L-42.85,748.42 L14.29,805.55 L0,819.83Z M-116.03,821.6 L-58.9,764.47 L-44.61,778.75 L-101.75,835.88Z M-57.13,794.8 L-42.85,780.52 L14.29,837.65 L0,851.93Z M-116.03,853.7 L-58.9,796.57 L-44.61,810.85 L-101.75,867.98Z M-57.13,826.9 L-42.85,812.62 L14.29,869.75 L0,884.03Z M-116.03,885.8 L-58.9,828.67 L-44.61,842.95 L-101.75,900.08Z M-57.13,859 L-42.85,844.72 L14.29,901.85 L0,916.13Z M-116.03,917.9 L-58.9,860.77 L-44.61,875.05 L-101.75,932.18Z M-57.13,891.1 L-42.85,876.82 L14.29,933.95 L0,948.23Z M-116.03,950 L-58.9,892.87 L-44.61,907.15 L-101.75,964.28Z M-57.13,923.2 L-42.85,908.92 L14.29,966.05 L0,980.33Z M-116.03,982.1 L-58.9,924.97 L-44.61,939.25 L-101.75,996.38Z M-57.13,955.3 L-42.85,941.02 L14.29,998.15 L0,1012.43Z M-116.03,1014.2 L-58.9,957.07 L-44.61,971.35 L-101.75,1028.48Z M-57.13,987.4 L-42.85,973.12 L14.29,1030.25 L0,1044.53Z M-116.03,1046.3 L-58.9,989.17 L-44.61,1003.45 L-101.75,1060.58Z M-57.13,1019.5 L-42.85,1005.22 L14.29,1062.35 L0,1076.63Z M-116.03,1078.4 L-58.9,1021.27 L-44.61,1035.55 L-101.75,1092.68Z M-57.13,1051.6 L-42.85,1037.32 L14.29,1094.45 L0,1108.73Z M-116.03,1110.5 L-58.9,1053.37 L-44.61,1067.65 L-101.75,1124.78Z M1.77,789.5 L58.9,732.37 L73.19,746.65 L16.05,803.78Z M60.67,762.7 L74.95,748.42 L132.09,805.55 L117.8,819.83Z M1.77,821.6 L58.9,764.47 L73.19,778.75 L16.05,835.88Z M60.67,794.8 L74.95,780.52 L132.09,837.65 L117.8,851.93Z M1.77,853.7 L58.9,796.57 L73.19,810.85 L16.05,867.98Z M60.67,826.9 L74.95,812.62 L132.09,869.75 L117.8,884.03Z M1.77,885.8 L58.9,828.67 L73.19,842.95 L16.05,900.08Z M60.67,859 L74.95,844.72 L132.09,901.85 L117.8,916.13Z M1.77,917.9 L58.9,860.77 L73.19,875.05 L16.05,932.18Z M60.67,891.1 L74.95,876.82 L132.09,933.95 L117.8,948.23Z M1.77,950 L58.9,892.87 L73.19,907.15 L16.05,964.28Z M60.67,923.2 L74.95,908.92 L132.09,966.05 L117.8,980.33Z M1.77,982.1 L58.9,924.97 L73.19,939.25 L16.05,996.38Z M60.67,955.3 L74.95,941.02 L132.09,998.15 L117.8,1012.43Z M1.77,1014.2 L58.9,957.07 L73.19,971.35 L16.05,1028.48Z M60.67,987.4 L74.95,973.12 L132.09,1030.25 L117.8,1044.53Z M1.77,1046.3 L58.9,989.17 L73.19,1003.45 L16.05,1060.58Z M60.67,1019.5 L74.95,1005.22 L132.09,1062.35 L117.8,1076.63Z M1.77,1078.4 L58.9,1021.27 L73.19,1035.55 L16.05,1092.68Z M60.67,1051.6 L74.95,1037.32 L132.09,1094.45 L117.8,1108.73Z M1.77,1110.5 L58.9,1053.37 L73.19,1067.65 L16.05,1124.78Z M119.57,789.5 L176.7,732.37 L190.99,746.65 L133.85,803.78Z M178.47,762.7 L192.75,748.42 L249.89,805.55 L235.6,819.83Z M119.57,821.6 L176.7,764.47 L190.99,778.75 L133.85,835.88Z M178.47,794.8 L192.75,780.52 L249.89,837.65 L235.6,851.93Z M119.57,853.7 L176.7,796.57 L190.99,810.85 L133.85,867.98Z M178.47,826.9 L192.75,812.62 L249.89,869.75 L235.6,884.03Z M119.57,885.8 L176.7,828.67 L190.99,842.95 L133.85,900.08Z M178.47,859 L192.75,844.72 L249.89,901.85 L235.6,916.13Z M119.57,917.9 L176.7,860.77 L190.99,875.05 L133.85,932.18Z M178.47,891.1 L192.75,876.82 L249.89,933.95 L235.6,948.23Z M119.57,950 L176.7,892.87 L190.99,907.15 L133.85,964.28Z M178.47,923.2 L192.75,908.92 L249.89,966.05 L235.6,980.33Z M119.57,982.1 L176.7,924.97 L190.99,939.25 L133.85,996.38Z M178.47,955.3 L192.75,941.02 L249.89,998.15 L235.6,1012.43Z M119.57,1014.2 L176.7,957.07 L190.99,971.35 L133.85,1028.48Z M178.47,987.4 L192.75,973.12 L249.89,1030.25 L235.6,1044.53Z M119.57,1046.3 L176.7,989.17 L190.99,1003.45 L133.85,1060.58Z M178.47,1019.5 L192.75,1005.22 L249.89,1062.35 L235.6,1076.63Z M119.57,1078.4 L176.7,1021.27 L190.99,1035.55 L133.85,1092.68Z M178.47,1051.6 L192.75,1037.32 L249.89,1094.45 L235.6,1108.73Z M119.57,1110.5 L176.7,1053.37 L190.99,1067.65 L133.85,1124.78Z M237.37,789.5 L294.5,732.37 L308.79,746.65 L251.65,803.78Z M237.37,821.6 L294.5,764.47 L308.79,778.75 L251.65,835.88Z M237.37,853.7 L294.5,796.57 L308.79,810.85 L251.65,867.98Z M237.37,885.8 L294.5,828.67 L308.79,842.95 L251.65,900.08Z M237.37,917.9 L294.5,860.77 L308.79,875.05 L251.65,932.18Z M237.37,950 L294.5,892.87 L308.79,907.15 L251.65,964.28Z M237.37,982.1 L294.5,924.97 L308.79,939.25 L251.65,996.38Z M237.37,1014.2 L294.5,957.07 L308.79,971.35 L251.65,1028.48Z M237.37,1046.3 L294.5,989.17 L308.79,1003.45 L251.65,1060.58Z M237.37,1078.4 L294.5,1021.27 L308.79,1035.55 L251.65,1092.68Z M237.37,1110.5 L294.5,1053.37 L308.79,1067.65 L251.65,1124.78Z" fill="none" stroke="#1a1a1a" stroke-width="1.3"/></g>
<polyline points="350.8,1053 350.8,793.3 727.8,793.3 727.8,1053" fill="none" stroke="#1a1a1a" stroke-width="2.4" stroke-linejoin="miter"/>
<line x1="350.8" y1="1052.8" x2="727.8" y2="1052.8" stroke="#1a1a1a" stroke-width="1.5"/>
<line x1="427.6" y1="793.3" x2="427.6" y2="1052.7" stroke="#1a1a1a" stroke-width="1.8"/>
<line x1="651.7" y1="793.3" x2="651.7" y2="1052.7" stroke="#1a1a1a" stroke-width="1.8"/>
<line x1="350.8" y1="1052.7" x2="350.8" y2="1064" stroke="#1a1a1a" stroke-width="2"/>
<line x1="727.8" y1="1052.7" x2="727.8" y2="1064" stroke="#1a1a1a" stroke-width="2"/>
<line x1="396" y1="1052.7" x2="396" y2="1064" stroke="#1a1a1a" stroke-width="1.5"/>
<line x1="467.8" y1="1052.7" x2="467.8" y2="1064" stroke="#1a1a1a" stroke-width="1.5"/>
<line x1="539" y1="1052.7" x2="539" y2="1064" stroke="#1a1a1a" stroke-width="1.5"/>
<line x1="611.2" y1="1052.7" x2="611.2" y2="1064" stroke="#1a1a1a" stroke-width="1.5"/>
<line x1="683.2" y1="1052.7" x2="683.2" y2="1064" stroke="#1a1a1a" stroke-width="1.5"/>
<circle cx="539" cy="1045.2" r="7.4" fill="#fff" stroke="#1a1a1a" stroke-width="1.9"/>
<circle cx="537.8" cy="1046.2" r="5.2" fill="none" stroke="#1a1a1a" stroke-width="1.1"/>
<line x1="77.2" y1="538" x2="328.3" y2="538" stroke="#8c8c8c" stroke-width="1.15"/>
<line x1="76.8" y1="1137.6" x2="308" y2="1137.6" stroke="#8c8c8c" stroke-width="1.15"/>
<line x1="79.6" y1="538" x2="79.6" y2="693" stroke="#8c8c8c" stroke-width="1.15"/>
<line x1="79.6" y1="755" x2="79.6" y2="1137.6" stroke="#8c8c8c" stroke-width="1.15"/>
<polygon points="79.6,538 82.15,552 79.6,550.4 77.05,552" fill="#262626" stroke="none"/>
<polygon points="79.6,1137.6 77.05,1123.6 79.6,1125.2 82.15,1123.6" fill="#262626" stroke="none"/>
<text x="67.7" y="719.1" font-size="25" textLength="33.3" lengthAdjust="spacingAndGlyphs" fill="#231f20" stroke="#231f20" stroke-width="0.35"><tspan font-size="25" dy="0">67<tspan font-weight="bold">&quot;</tspan></tspan></text>
<text x="31.9" y="746.6" font-size="25" textLength="103.8" lengthAdjust="spacingAndGlyphs" fill="#231f20" stroke="#231f20" stroke-width="0.35"><tspan font-size="25" dy="0">(1702 mm)</tspan></text>
<line x1="142.8" y1="588.6" x2="318" y2="588.6" stroke="#8c8c8c" stroke-width="1.15"/>
<line x1="146.4" y1="588.6" x2="146.4" y2="771.6" stroke="#8c8c8c" stroke-width="1.15"/>
<line x1="146.4" y1="846.7" x2="146.4" y2="1137.6" stroke="#8c8c8c" stroke-width="1.15"/>
<polygon points="146.4,588.6 148.95,602.6 146.4,601 143.85,602.6" fill="#262626" stroke="none"/>
<polygon points="146.4,1137.6 143.85,1123.6 146.4,1125.2 148.95,1123.6" fill="#262626" stroke="none"/>
<text x="129.7" y="805" font-size="25" textLength="33.4" lengthAdjust="spacingAndGlyphs" fill="#231f20" stroke="#231f20" stroke-width="0.35"><tspan font-size="25" dy="0">61<tspan font-weight="bold">&quot;</tspan></tspan></text>
<text x="95" y="833.6" font-size="25" textLength="103.9" lengthAdjust="spacingAndGlyphs" fill="#231f20" stroke="#231f20" stroke-width="0.35"><tspan font-size="25" dy="0">(1550 mm)</tspan></text>
<line x1="195.3" y1="694.6" x2="305.5" y2="694.6" stroke="#8c8c8c" stroke-width="1.15"/>
<line x1="201.3" y1="694.6" x2="201.3" y2="852" stroke="#8c8c8c" stroke-width="1.15"/>
<line x1="201.3" y1="915" x2="201.3" y2="1137.6" stroke="#8c8c8c" stroke-width="1.15"/>
<polygon points="201.3,694.6 203.85,708.6 201.3,707 198.75,708.6" fill="#262626" stroke="none"/>
<polygon points="201.3,1137.6 198.75,1123.6 201.3,1125.2 203.85,1123.6" fill="#262626" stroke="none"/>
<text x="185.8" y="878.2" font-size="25" textLength="34.5" lengthAdjust="spacingAndGlyphs" fill="#231f20" stroke="#231f20" stroke-width="0.35"><tspan font-size="25" dy="0">49<tspan font-weight="bold">&quot;</tspan></tspan></text>
<text x="151.2" y="905.6" font-size="25" textLength="103.7" lengthAdjust="spacingAndGlyphs" fill="#231f20" stroke="#231f20" stroke-width="0.35"><tspan font-size="25" dy="0">(1245 mm)</tspan></text>
<line x1="257.3" y1="694.6" x2="257.3" y2="708.4" stroke="#8c8c8c" stroke-width="1.15"/>
<line x1="257.3" y1="776.4" x2="257.3" y2="925.9" stroke="#8c8c8c" stroke-width="1.15"/>
<line x1="257.3" y1="989" x2="257.3" y2="1063.7" stroke="#8c8c8c" stroke-width="1.15"/>
<polygon points="257.3,694.6 259.85,708.6 257.3,707 254.75,708.6" fill="#262626" stroke="none"/>
<polygon points="257.3,794.3 254.75,780.3 257.3,781.9 259.85,780.3" fill="#262626" stroke="none"/>
<polygon points="257.3,794.3 259.85,808.3 257.3,806.7 254.75,808.3" fill="#262626" stroke="none"/>
<line x1="241.8" y1="794.3" x2="347.2" y2="794.3" stroke="#8c8c8c" stroke-width="1.15"/>
<text x="239.4" y="738.2" font-size="25" textLength="27.4" lengthAdjust="spacingAndGlyphs" fill="#231f20" stroke="#231f20" stroke-width="0.35"><tspan font-size="25" dy="0">11<tspan font-weight="bold">&quot;</tspan></tspan></text>
<text x="210.8" y="765.7" font-size="25" textLength="84.7" lengthAdjust="spacingAndGlyphs" fill="#231f20" stroke="#231f20" stroke-width="0.35"><tspan font-size="25" dy="0">(280 mm)</tspan></text>
<polygon points="257.3,1063.7 254.75,1049.7 257.3,1051.3 259.85,1049.7" fill="#262626" stroke="none"/>
<polygon points="257.3,1063.7 259.85,1077.7 257.3,1076.1 254.75,1077.7" fill="#262626" stroke="none"/>
<line x1="251.3" y1="1063.7" x2="298" y2="1063.7" stroke="#8c8c8c" stroke-width="1.15"/>
<text x="232.3" y="953.3" font-size="25" textLength="33.4" lengthAdjust="spacingAndGlyphs" fill="#231f20" stroke="#231f20" stroke-width="0.35"><tspan font-size="25" dy="0">30<tspan font-weight="bold">&quot;</tspan></tspan></text>
<text x="202.5" y="981.9" font-size="25" textLength="91.8" lengthAdjust="spacingAndGlyphs" fill="#231f20" stroke="#231f20" stroke-width="0.35"><tspan font-size="25" dy="0">(762 mm)</tspan></text>
<line x1="257.3" y1="1063.7" x2="257.3" y2="1078" stroke="#8c8c8c" stroke-width="1.15"/>
<line x1="257.3" y1="1112" x2="257.3" y2="1127" stroke="#8c8c8c" stroke-width="1.15"/>
<polygon points="257.3,1127 254.75,1113 257.3,1114.6 259.85,1113" fill="#262626" stroke="none"/>
<line x1="252.5" y1="1127" x2="298" y2="1127" stroke="#8c8c8c" stroke-width="1.15"/>
<text x="255" y="1094" font-size="16.5" textLength="13" lengthAdjust="spacingAndGlyphs" fill="#231f20" stroke="#231f20" stroke-width="0.35"><tspan font-size="16.5" dy="0">7<tspan font-weight="bold">&quot;</tspan></tspan></text>
<text x="229.9" y="1113" font-size="16.5" textLength="62" lengthAdjust="spacingAndGlyphs" fill="#231f20" stroke="#231f20" stroke-width="0.35"><tspan font-size="16.5" dy="0">(178 mm)</tspan></text>
<line x1="735" y1="618" x2="884" y2="618" stroke="#8c8c8c" stroke-width="1.15"/>
<line x1="773.5" y1="1136.9" x2="884" y2="1136.9" stroke="#8c8c8c" stroke-width="1.15"/>
<line x1="869.4" y1="618" x2="869.4" y2="763.8" stroke="#8c8c8c" stroke-width="1.15"/>
<line x1="869.4" y1="840.3" x2="869.4" y2="1136.9" stroke="#8c8c8c" stroke-width="1.15"/>
<polygon points="869.4,618 871.95,632 869.4,630.4 866.85,632" fill="#262626" stroke="none"/>
<polygon points="869.4,1136.9 866.85,1122.9 869.4,1124.5 871.95,1122.9" fill="#262626" stroke="none"/>
<text x="861" y="794" font-size="25" textLength="33.6" lengthAdjust="spacingAndGlyphs" fill="#231f20" stroke="#231f20" stroke-width="0.35"><tspan font-size="25" dy="0">58<tspan font-weight="bold">&quot;</tspan></tspan></text>
<text x="822.4" y="824.9" font-size="25" textLength="110.1" lengthAdjust="spacingAndGlyphs" fill="#231f20" stroke="#231f20" stroke-width="0.35"><tspan font-size="25" dy="0">(1474 mm)</tspan></text>
<line x1="815.2" y1="1102" x2="815.2" y2="1129.8" stroke="#8c8c8c" stroke-width="1.15"/>
<polygon points="815.2,1129.8 812.65,1115.8 815.2,1117.4 817.75,1115.8" fill="#262626" stroke="none"/>
<line x1="773" y1="1130" x2="826.7" y2="1130" stroke="#8c8c8c" stroke-width="1.15"/>
<line x1="815.2" y1="1137.2" x2="815.2" y2="1151" stroke="#8c8c8c" stroke-width="1.15"/>
<polygon points="815.2,1137.2 817.75,1151.2 815.2,1149.6 812.65,1151.2" fill="#262626" stroke="none"/>
<text x="813" y="1066.5" font-size="25" textLength="20" lengthAdjust="spacingAndGlyphs" fill="#231f20" stroke="#231f20" stroke-width="0.35"><tspan font-size="25" dy="0">1<tspan font-weight="bold">&quot;</tspan></tspan></text>
<text x="783" y="1094.7" font-size="25" textLength="79.2" lengthAdjust="spacingAndGlyphs" fill="#231f20" stroke="#231f20" stroke-width="0.35"><tspan font-size="25" dy="0">(26 mm)</tspan></text>
<line x1="351.1" y1="1068" x2="351.1" y2="1177" stroke="#8c8c8c" stroke-width="1.15"/>
<line x1="728" y1="1068" x2="728" y2="1177" stroke="#8c8c8c" stroke-width="1.15"/>
<line x1="351.1" y1="1172.6" x2="445" y2="1172.6" stroke="#8c8c8c" stroke-width="1.15"/>
<line x1="634.8" y1="1172.6" x2="727.5" y2="1172.6" stroke="#8c8c8c" stroke-width="1.15"/>
<polygon points="351.1,1172.6 365.1,1170.05 363.5,1172.6 365.1,1175.15" fill="#262626" stroke="none"/>
<polygon points="727.5,1172.6 713.5,1175.15 715.1,1172.6 713.5,1170.05" fill="#262626" stroke="none"/>
<text x="468.2" y="1179.4" font-size="25" textLength="146.6" lengthAdjust="spacingAndGlyphs" fill="#231f20" stroke="#231f20" stroke-width="0.35"><tspan font-size="25" dy="0">42<tspan font-weight="bold">&quot;</tspan> (1067 mm)</tspan></text>
<line x1="728.5" y1="1172.6" x2="783" y2="1172.6" stroke="#8c8c8c" stroke-width="1.15"/>
<polygon points="728.8,1172.6 742.8,1170.05 741.2,1172.6 742.8,1175.15" fill="#262626" stroke="none"/>
<polygon points="770,1172.6 756,1175.15 757.6,1172.6 756,1170.05" fill="#262626" stroke="none"/>
<text x="785.7" y="1180.4" font-size="25" textLength="151.3" lengthAdjust="spacingAndGlyphs" fill="#231f20" stroke="#231f20" stroke-width="0.35"><tspan font-size="25" dy="0">4-</tspan><tspan font-size="15.5" dy="-7.25">1</tspan><tspan font-size="25" dy="7.25">/</tspan><tspan font-size="15.5" dy="2.5">2</tspan><tspan font-size="25" dy="-2.5"><tspan font-weight="bold">&quot;</tspan> (115 mm)</tspan></text>
<line x1="309.6" y1="1140" x2="309.6" y2="1213" stroke="#8c8c8c" stroke-width="1.15"/>
<line x1="770.2" y1="1133" x2="770.2" y2="1213" stroke="#8c8c8c" stroke-width="1.15"/>
<line x1="309.6" y1="1207.5" x2="435.8" y2="1207.5" stroke="#8c8c8c" stroke-width="1.15"/>
<line x1="648.7" y1="1207.5" x2="770.2" y2="1207.5" stroke="#8c8c8c" stroke-width="1.15"/>
<polygon points="309.6,1207.5 323.6,1204.95 322,1207.5 323.6,1210.05" fill="#262626" stroke="none"/>
<polygon points="770.2,1207.5 756.2,1210.05 757.8,1207.5 756.2,1204.95" fill="#262626" stroke="none"/>
<text x="460.5" y="1219.5" font-size="25" textLength="175.9" lengthAdjust="spacingAndGlyphs" fill="#231f20" stroke="#231f20" stroke-width="0.35"><tspan font-size="25" dy="0">51-</tspan><tspan font-size="15.5" dy="-7.25">1</tspan><tspan font-size="25" dy="7.25">/</tspan><tspan font-size="15.5" dy="2.5">8</tspan><tspan font-size="25" dy="-2.5"><tspan font-weight="bold">&quot;</tspan> (1299 mm)</tspan></text>
<line x1="1193.3" y1="539.1" x2="1332.5" y2="539.1" stroke="#1a1a1a" stroke-width="2.6"/>
<line x1="1231.5" y1="542.3" x2="1332.5" y2="542.3" stroke="#1a1a1a" stroke-width="0.9"/>
<line x1="1231.5" y1="549.2" x2="1332.5" y2="549.2" stroke="#1a1a1a" stroke-width="1.5"/>
<polyline points="1332.5,539.3 1332.5,571.6 1326,571.6 1326,591.3" fill="none" stroke="#1a1a1a" stroke-width="2" stroke-linejoin="miter"/>
<circle cx="1333.3" cy="549.2" r="1.6" fill="none" stroke="#1a1a1a" stroke-width="1.2"/>
<line x1="1231.5" y1="571.8" x2="1332.5" y2="571.8" stroke="#1a1a1a" stroke-width="0"/>
<rect x="1232.6" y="572.7" width="53.8" height="18.6" rx="0" fill="none" stroke="#1a1a1a" stroke-width="2"/>
<rect x="1303.3" y="572.7" width="21.3" height="18.6" rx="0" fill="none" stroke="#1a1a1a" stroke-width="2"/>
<line x1="1318.5" y1="572.7" x2="1318.5" y2="591.3" stroke="#1a1a1a" stroke-width="1.2"/>
<rect x="1196.2" y="539.8" width="35.3" height="64.6" rx="0" fill="#fff" stroke="#1a1a1a" stroke-width="2.4"/>
<line x1="1196.2" y1="539" x2="1196.2" y2="604.4" stroke="#1a1a1a" stroke-width="3.2"/>
<circle cx="1206.2" cy="597.7" r="2" fill="none" stroke="#1a1a1a" stroke-width="1.2"/>
<circle cx="1221.5" cy="597.7" r="2" fill="none" stroke="#1a1a1a" stroke-width="1.2"/>
<line x1="1166.9" y1="591.3" x2="1196.2" y2="591.3" stroke="#1a1a1a" stroke-width="2.2"/>
<line x1="1231.5" y1="591.3" x2="1360.5" y2="591.3" stroke="#1a1a1a" stroke-width="2.4"/>
<line x1="1231.5" y1="598.1" x2="1360.5" y2="598.1" stroke="#1a1a1a" stroke-width="2.4"/>
<circle cx="1285" cy="594.7" r="0.9" fill="#1a1a1a" stroke="#1a1a1a" stroke-width="0"/>
<circle cx="1346" cy="594.7" r="0.9" fill="#1a1a1a" stroke="#1a1a1a" stroke-width="0"/>
<line x1="1193.6" y1="547.3" x2="1184.2" y2="591.3" stroke="#1a1a1a" stroke-width="2"/>
<circle cx="1193" cy="548" r="1.6" fill="none" stroke="#1a1a1a" stroke-width="1.2"/>
<polyline points="1183,591.3 1189.6,598.6 1196.2,598.6" fill="none" stroke="#1a1a1a" stroke-width="1.8" stroke-linejoin="miter"/>
<line x1="1362.3" y1="539.5" x2="1362.3" y2="604.2" stroke="#1a1a1a" stroke-width="3"/>
<line x1="1361" y1="543" x2="1331.3" y2="591" stroke="#1a1a1a" stroke-width="2"/>
<line x1="1358.5" y1="550" x2="1334.5" y2="591" stroke="#1a1a1a" stroke-width="1.1"/>
<polyline points="1166.9,591.3 1143.6,644.6 1151,643.2 1170.9,599.3 1182.2,592" fill="none" stroke="#1a1a1a" stroke-width="2" stroke-linejoin="miter"/>
<polyline points="1142.3,646.6 1149,653.9 1149.6,688.5 1142.3,695.8" fill="none" stroke="#1a1a1a" stroke-width="2" stroke-linejoin="miter"/>
<line x1="1360.9" y1="598" x2="1360.9" y2="1125.7" stroke="#1a1a1a" stroke-width="2.2"/>
<circle cx="1261.3" cy="610.9" r="2.2" fill="none" stroke="#1a1a1a" stroke-width="1.1"/>
<circle cx="1312.9" cy="610.9" r="2.2" fill="none" stroke="#1a1a1a" stroke-width="1.1"/>
<polyline points="1107,695.5 1107,615.2 1142.3,615.2 1143,695.8" fill="none" stroke="#1a1a1a" stroke-width="2.2" stroke-linejoin="miter"/>
<polyline points="1111,695.2 1117,702.5 1135,702.5 1141,695.8" fill="none" stroke="#1a1a1a" stroke-width="1.8" stroke-linejoin="miter"/>
<line x1="1107" y1="695.4" x2="1143" y2="695.4" stroke="#1a1a1a" stroke-width="1.6"/>
<polyline points="1107,693.8 1100.9,693.8 1104.4,1125.7" fill="none" stroke="#1a1a1a" stroke-width="2.6" stroke-linejoin="miter"/>
<line x1="1107.2" y1="698" x2="1110.2" y2="1120" stroke="#1a1a1a" stroke-width="1"/>
<line x1="1143" y1="695.8" x2="1145.8" y2="1123.6" stroke="#1a1a1a" stroke-width="2.2"/>
<line x1="1104.7" y1="1061.5" x2="1110" y2="1061.5" stroke="#1a1a1a" stroke-width="1.4"/>
<line x1="1110.5" y1="1061.5" x2="1110.5" y2="1122" stroke="#1a1a1a" stroke-width="1.6"/>
<line x1="1101.4" y1="750.8" x2="1103.5" y2="750.8" stroke="#1a1a1a" stroke-width="1.3"/>
<line x1="1101.4" y1="812" x2="1103.5" y2="812" stroke="#1a1a1a" stroke-width="1.3"/>
<line x1="1101.4" y1="870" x2="1103.5" y2="870" stroke="#1a1a1a" stroke-width="1.3"/>
<line x1="1101.4" y1="1040" x2="1103.5" y2="1040" stroke="#1a1a1a" stroke-width="1.3"/>
<circle cx="1118.4" cy="852.4" r="0.9" fill="#1a1a1a" stroke="#1a1a1a" stroke-width="0"/>
<rect x="1166.9" y="710" width="26.6" height="330.5" rx="0" fill="none" stroke="#1a1a1a" stroke-width="2.4"/>
<line x1="1173.2" y1="710" x2="1173.2" y2="1040.5" stroke="#444" stroke-width="1.1"/>
<line x1="1185.9" y1="710" x2="1185.9" y2="1040.5" stroke="#1a1a1a" stroke-width="1.5"/>
<line x1="1189.5" y1="710" x2="1189.5" y2="1040.5" stroke="#1a1a1a" stroke-width="1"/>
<circle cx="1169.9" cy="719.5" r="0.8" fill="#1a1a1a" stroke="#1a1a1a" stroke-width="0"/>
<circle cx="1190.2" cy="719.5" r="0.8" fill="#1a1a1a" stroke="#1a1a1a" stroke-width="0"/>
<circle cx="1169.9" cy="819.5" r="0.8" fill="#1a1a1a" stroke="#1a1a1a" stroke-width="0"/>
<circle cx="1190.2" cy="819.5" r="0.8" fill="#1a1a1a" stroke="#1a1a1a" stroke-width="0"/>
<circle cx="1169.9" cy="925.5" r="0.8" fill="#1a1a1a" stroke="#1a1a1a" stroke-width="0"/>
<circle cx="1190.2" cy="925.5" r="0.8" fill="#1a1a1a" stroke="#1a1a1a" stroke-width="0"/>
<circle cx="1169.9" cy="1033" r="0.8" fill="#1a1a1a" stroke="#1a1a1a" stroke-width="0"/>
<circle cx="1190.2" cy="1033" r="0.8" fill="#1a1a1a" stroke="#1a1a1a" stroke-width="0"/>
<rect x="1312.6" y="710" width="26.6" height="330.5" rx="0" fill="none" stroke="#1a1a1a" stroke-width="2.4"/>
<line x1="1318.9" y1="710" x2="1318.9" y2="1040.5" stroke="#444" stroke-width="1.1"/>
<line x1="1331.6" y1="710" x2="1331.6" y2="1040.5" stroke="#1a1a1a" stroke-width="1.5"/>
<line x1="1335.2" y1="710" x2="1335.2" y2="1040.5" stroke="#1a1a1a" stroke-width="1"/>
<circle cx="1315.6" cy="719.5" r="0.8" fill="#1a1a1a" stroke="#1a1a1a" stroke-width="0"/>
<circle cx="1335.9" cy="719.5" r="0.8" fill="#1a1a1a" stroke="#1a1a1a" stroke-width="0"/>
<circle cx="1315.6" cy="819.5" r="0.8" fill="#1a1a1a" stroke="#1a1a1a" stroke-width="0"/>
<circle cx="1335.9" cy="819.5" r="0.8" fill="#1a1a1a" stroke="#1a1a1a" stroke-width="0"/>
<circle cx="1315.6" cy="925.5" r="0.8" fill="#1a1a1a" stroke="#1a1a1a" stroke-width="0"/>
<circle cx="1335.9" cy="925.5" r="0.8" fill="#1a1a1a" stroke="#1a1a1a" stroke-width="0"/>
<circle cx="1315.6" cy="1033" r="0.8" fill="#1a1a1a" stroke="#1a1a1a" stroke-width="0"/>
<circle cx="1335.9" cy="1033" r="0.8" fill="#1a1a1a" stroke="#1a1a1a" stroke-width="0"/>
<rect x="1361.4" y="709.4" width="14.3" height="324.6" rx="0" fill="none" stroke="#1a1a1a" stroke-width="2.4"/>
<rect x="1144.3" y="909.9" width="21.4" height="28.4" rx="0" fill="#fff" stroke="#1a1a1a" stroke-width="2.2"/>
<rect x="1147.3" y="912.9" width="15.4" height="4.5" rx="0" fill="none" stroke="#1a1a1a" stroke-width="1.4"/>
<circle cx="1149.3" cy="921.9" r="0.8" fill="#1a1a1a" stroke="#1a1a1a" stroke-width="0"/>
<circle cx="1160.7" cy="921.9" r="0.8" fill="#1a1a1a" stroke="#1a1a1a" stroke-width="0"/>
<circle cx="1149.3" cy="933.4" r="0.8" fill="#1a1a1a" stroke="#1a1a1a" stroke-width="0"/>
<circle cx="1160.7" cy="933.4" r="0.8" fill="#1a1a1a" stroke="#1a1a1a" stroke-width="0"/>
<rect x="1289.9" y="909" width="21.4" height="28.4" rx="0" fill="#fff" stroke="#1a1a1a" stroke-width="2.2"/>
<rect x="1292.9" y="912" width="15.4" height="4.5" rx="0" fill="none" stroke="#1a1a1a" stroke-width="1.4"/>
<circle cx="1294.9" cy="921" r="0.8" fill="#1a1a1a" stroke="#1a1a1a" stroke-width="0"/>
<circle cx="1306.3" cy="921" r="0.8" fill="#1a1a1a" stroke="#1a1a1a" stroke-width="0"/>
<circle cx="1294.9" cy="932.5" r="0.8" fill="#1a1a1a" stroke="#1a1a1a" stroke-width="0"/>
<circle cx="1306.3" cy="932.5" r="0.8" fill="#1a1a1a" stroke="#1a1a1a" stroke-width="0"/>
<line x1="1115" y1="1120.6" x2="1359.3" y2="1120.6" stroke="#1a1a1a" stroke-width="2"/>
<line x1="1101.4" y1="1125.7" x2="1360.5" y2="1125.7" stroke="#1a1a1a" stroke-width="3"/>
<polyline points="1106,1126 1106,1134.1 1356,1134.1 1359,1126" fill="none" stroke="#1a1a1a" stroke-width="2.4" stroke-linejoin="miter"/>
<circle cx="1163.5" cy="1123" r="0.8" fill="#1a1a1a" stroke="#1a1a1a" stroke-width="0"/>
<circle cx="1223.5" cy="1123" r="0.8" fill="#1a1a1a" stroke="#1a1a1a" stroke-width="0"/>
<circle cx="1284.5" cy="1123" r="0.8" fill="#1a1a1a" stroke="#1a1a1a" stroke-width="0"/>
<circle cx="1346" cy="1123" r="0.8" fill="#1a1a1a" stroke="#1a1a1a" stroke-width="0"/>
<path d="M1117,1126 L1119,1131 L1121,1126" fill="none" stroke="#1a1a1a" stroke-width="1"/>
<circle cx="1219.4" cy="1049.9" r="15.2" fill="#fff" stroke="#1a1a1a" stroke-width="2.4"/>
<polygon points="1258.3,1011 1287.8,1041.5 1258.3,1071 1233,1041.5" fill="#fff" stroke="#1a1a1a" stroke-width="2.8" stroke-linejoin="miter"/>
<ellipse cx="1258.3" cy="1018.5" rx="1.8" ry="1.3" fill="none" stroke="#1a1a1a" stroke-width="1"/>
<ellipse cx="1280.5" cy="1041.5" rx="1.8" ry="1.3" fill="none" stroke="#1a1a1a" stroke-width="1"/>
<ellipse cx="1258.3" cy="1064" rx="1.8" ry="1.3" fill="none" stroke="#1a1a1a" stroke-width="1"/>
<ellipse cx="1237.5" cy="1041.5" rx="1.8" ry="1.3" fill="none" stroke="#1a1a1a" stroke-width="1"/>
<circle cx="1183.2" cy="1103.6" r="14.7" fill="#fff" stroke="#1a1a1a" stroke-width="2.4"/>
<rect x="1197.6" y="1092" width="42.2" height="24.2" rx="0" fill="none" stroke="#1a1a1a" stroke-width="2.2"/>
<circle cx="1230" cy="1050.5" r="0.9" fill="#1a1a1a" stroke="#1a1a1a" stroke-width="0"/>
<circle cx="1192.5" cy="1104" r="0.9" fill="#1a1a1a" stroke="#1a1a1a" stroke-width="0"/>
<polyline points="1069.6,743.5 1079.6,743.5 1245.5,1014" fill="none" stroke="#8c8c8c" stroke-width="1" stroke-linejoin="miter"/>
<polygon points="1248.9,1019.4 1239.88,1009.68 1242.94,1009.68 1244.32,1006.96" fill="#262626" stroke="none"/>
<polyline points="1064.2,876.7 1074.2,876.7 1204,1031.8" fill="none" stroke="#8c8c8c" stroke-width="1" stroke-linejoin="miter"/>
<polygon points="1207.8,1036.3 1197.46,1028 1200.48,1027.56 1201.45,1024.66" fill="#262626" stroke="none"/>
<text x="964.7" y="733.2" font-size="23.6" textLength="121.1" lengthAdjust="spacingAndGlyphs" fill="#231f20" stroke="#231f20" stroke-width="0.35"><tspan font-size="23.6" dy="0">OUTSIDE AIR</tspan></text>
<text x="964.7" y="760.2" font-size="23.6" textLength="74" lengthAdjust="spacingAndGlyphs" fill="#231f20" stroke="#231f20" stroke-width="0.35"><tspan font-size="23.6" dy="0">ACCESS</tspan></text>
<text x="971.6" y="873.6" font-size="23.6" textLength="87.2" lengthAdjust="spacingAndGlyphs" fill="#231f20" stroke="#231f20" stroke-width="0.35"><tspan font-size="23.6" dy="0">GAS LINE</tspan></text>
<text x="971.6" y="900.6" font-size="23.6" textLength="73.3" lengthAdjust="spacingAndGlyphs" fill="#231f20" stroke="#231f20" stroke-width="0.35"><tspan font-size="23.6" dy="0">ACCESS</tspan></text>
<line x1="922" y1="1041.8" x2="1233" y2="1041.8" stroke="#8c8c8c" stroke-width="1.15"/>
<line x1="934.7" y1="1041.8" x2="934.7" y2="1058" stroke="#8c8c8c" stroke-width="1.15"/>
<line x1="934.7" y1="1120" x2="934.7" y2="1135.2" stroke="#8c8c8c" stroke-width="1.15"/>
<polygon points="934.7,1041.8 937.25,1055.8 934.7,1054.2 932.15,1055.8" fill="#262626" stroke="none"/>
<polygon points="934.7,1135.2 932.15,1121.2 934.7,1122.8 937.25,1121.2" fill="#262626" stroke="none"/>
<line x1="922" y1="1135.2" x2="1101.6" y2="1135.2" stroke="#8c8c8c" stroke-width="1.15"/>
<text x="906.6" y="1081.9" font-size="25" textLength="64.6" lengthAdjust="spacingAndGlyphs" fill="#231f20" stroke="#231f20" stroke-width="0.35"><tspan font-size="25" dy="0">10-</tspan><tspan font-size="15.5" dy="-7.25">1</tspan><tspan font-size="25" dy="7.25">/</tspan><tspan font-size="15.5" dy="2.5">2</tspan><tspan font-size="25" dy="-2.5"><tspan font-weight="bold">&quot;</tspan></tspan></text>
<text x="895.4" y="1112.7" font-size="25" textLength="92.6" lengthAdjust="spacingAndGlyphs" fill="#231f20" stroke="#231f20" stroke-width="0.35"><tspan font-size="25" dy="0">(267 mm)</tspan></text>
<line x1="1025.9" y1="1050.2" x2="1219.4" y2="1050.2" stroke="#8c8c8c" stroke-width="1.15"/>
<line x1="1033.7" y1="1050.2" x2="1033.7" y2="1064" stroke="#8c8c8c" stroke-width="1.15"/>
<line x1="1033.7" y1="1120" x2="1033.7" y2="1135.2" stroke="#8c8c8c" stroke-width="1.15"/>
<polygon points="1033.7,1050.2 1036.25,1064.2 1033.7,1062.6 1031.15,1064.2" fill="#262626" stroke="none"/>
<polygon points="1033.7,1135.2 1031.15,1121.2 1033.7,1122.8 1036.25,1121.2" fill="#262626" stroke="none"/>
<text x="1011.8" y="1086.1" font-size="25" textLength="51.9" lengthAdjust="spacingAndGlyphs" fill="#231f20" stroke="#231f20" stroke-width="0.35"><tspan font-size="25" dy="0">9-</tspan><tspan font-size="15.5" dy="-7.25">1</tspan><tspan font-size="25" dy="7.25">/</tspan><tspan font-size="15.5" dy="2.5">2</tspan><tspan font-size="25" dy="-2.5"><tspan font-weight="bold">&quot;</tspan></tspan></text>
<text x="992.2" y="1114.2" font-size="25" textLength="91.2" lengthAdjust="spacingAndGlyphs" fill="#231f20" stroke="#231f20" stroke-width="0.35"><tspan font-size="25" dy="0">(242 mm)</tspan></text>
<line x1="1091.8" y1="1083" x2="1091.8" y2="1104.5" stroke="#8c8c8c" stroke-width="1.15"/>
<polygon points="1091.8,1104.5 1089.25,1090.5 1091.8,1092.1 1094.35,1090.5" fill="#262626" stroke="none"/>
<line x1="1087.6" y1="1105.2" x2="1183.2" y2="1105.2" stroke="#8c8c8c" stroke-width="1.15"/>
<polygon points="1091.8,1136 1094.35,1150 1091.8,1148.4 1089.25,1150" fill="#262626" stroke="none"/>
<polyline points="1091.8,1136 1091.8,1170.2 1069.3,1170.2" fill="none" stroke="#8c8c8c" stroke-width="1" stroke-linejoin="miter"/>
<text x="1010.4" y="1178.7" font-size="25" textLength="50.6" lengthAdjust="spacingAndGlyphs" fill="#231f20" stroke="#231f20" stroke-width="0.35"><tspan font-size="25" dy="0">3-</tspan><tspan font-size="15.5" dy="-7.25">1</tspan><tspan font-size="25" dy="7.25">/</tspan><tspan font-size="15.5" dy="2.5">2</tspan><tspan font-size="25" dy="-2.5"><tspan font-weight="bold">&quot;</tspan></tspan></text>
<text x="996.4" y="1208.1" font-size="25" textLength="80" lengthAdjust="spacingAndGlyphs" fill="#231f20" stroke="#231f20" stroke-width="0.35"><tspan font-size="25" dy="0">(89 mm)</tspan></text>
<line x1="1104.4" y1="1137" x2="1104.4" y2="1260" stroke="#8c8c8c" stroke-width="1.15"/>
<line x1="1183.2" y1="1103.6" x2="1183.2" y2="1171.6" stroke="#8c8c8c" stroke-width="1.15"/>
<line x1="1220.6" y1="1050" x2="1220.6" y2="1213.7" stroke="#8c8c8c" stroke-width="1.15"/>
<line x1="1258.4" y1="1071" x2="1258.4" y2="1260" stroke="#8c8c8c" stroke-width="1.15"/>
<line x1="1104.4" y1="1156.2" x2="1122" y2="1156.2" stroke="#8c8c8c" stroke-width="1.15"/>
<line x1="1162" y1="1156.2" x2="1183.2" y2="1156.2" stroke="#8c8c8c" stroke-width="1.15"/>
<polygon points="1104.4,1156.2 1116.4,1153.65 1114.8,1156.2 1116.4,1158.75" fill="#262626" stroke="none"/>
<polygon points="1183.2,1156.2 1171.2,1158.75 1172.8,1156.2 1171.2,1153.65" fill="#262626" stroke="none"/>
<text x="1124" y="1156.2" font-size="17.5" textLength="36.5" lengthAdjust="spacingAndGlyphs" fill="#231f20" stroke="#231f20" stroke-width="0.35"><tspan font-size="17.5" dy="0">8-</tspan><tspan font-size="10.85" dy="-5.07">1</tspan><tspan font-size="17.5" dy="5.07">/</tspan><tspan font-size="10.85" dy="1.75">2</tspan><tspan font-size="17.5" dy="-1.75"><tspan font-weight="bold">&quot;</tspan></tspan></text>
<text x="1108.6" y="1177.3" font-size="17.5" textLength="67.3" lengthAdjust="spacingAndGlyphs" fill="#231f20" stroke="#231f20" stroke-width="0.35"><tspan font-size="17.5" dy="0">(216 mm)</tspan></text>
<line x1="1104.4" y1="1207.3" x2="1133.9" y2="1207.3" stroke="#8c8c8c" stroke-width="1.15"/>
<line x1="1192.8" y1="1207.3" x2="1220.6" y2="1207.3" stroke="#8c8c8c" stroke-width="1.15"/>
<polygon points="1104.4,1207.3 1118.4,1204.75 1116.8,1207.3 1118.4,1209.85" fill="#262626" stroke="none"/>
<polygon points="1220.6,1207.3 1206.6,1209.85 1208.2,1207.3 1206.6,1204.75" fill="#262626" stroke="none"/>
<text x="1147.9" y="1202.5" font-size="25" textLength="32.2" lengthAdjust="spacingAndGlyphs" fill="#231f20" stroke="#231f20" stroke-width="0.35"><tspan font-size="25" dy="0">13<tspan font-weight="bold">&quot;</tspan></tspan></text>
<text x="1118.4" y="1230.6" font-size="25" textLength="91.2" lengthAdjust="spacingAndGlyphs" fill="#231f20" stroke="#231f20" stroke-width="0.35"><tspan font-size="25" dy="0">(331 mm)</tspan></text>
<line x1="1104.4" y1="1258.6" x2="1146.5" y2="1258.6" stroke="#8c8c8c" stroke-width="1.15"/>
<line x1="1220.8" y1="1258.6" x2="1258.4" y2="1258.6" stroke="#8c8c8c" stroke-width="1.15"/>
<polygon points="1104.4,1258.6 1118.4,1256.05 1116.8,1258.6 1118.4,1261.15" fill="#262626" stroke="none"/>
<polygon points="1258.4,1258.6 1244.4,1261.15 1246,1258.6 1244.4,1256.05" fill="#262626" stroke="none"/>
<text x="1167.5" y="1267" font-size="25" textLength="32.3" lengthAdjust="spacingAndGlyphs" fill="#231f20" stroke="#231f20" stroke-width="0.35"><tspan font-size="25" dy="0">17<tspan font-weight="bold">&quot;</tspan></tspan></text>
<text x="1138" y="1293.7" font-size="25" textLength="91.2" lengthAdjust="spacingAndGlyphs" fill="#231f20" stroke="#231f20" stroke-width="0.35"><tspan font-size="25" dy="0">(432 mm)</tspan></text>
</svg></body></html>
